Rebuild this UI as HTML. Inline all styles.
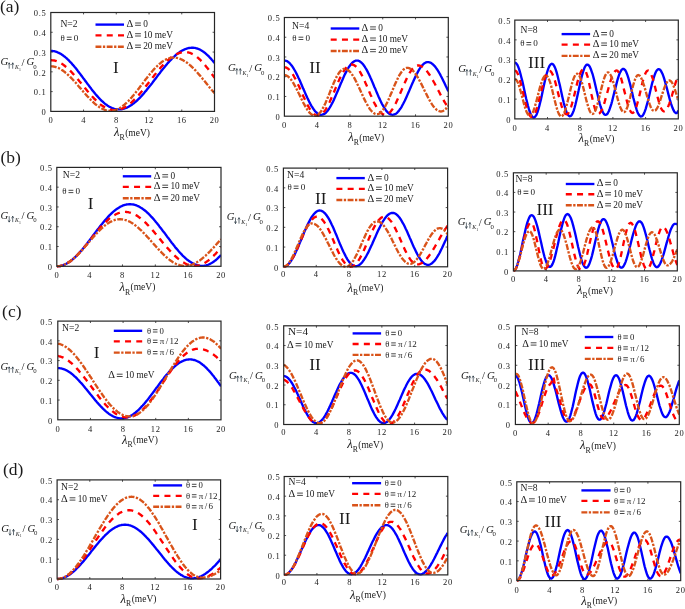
<!DOCTYPE html>
<html><head><meta charset="utf-8"><title>Figure</title>
<style>html,body{margin:0;padding:0;background:#fff;}svg{display:block;will-change:transform;}text{font-family:"Liberation Serif",serif;fill:#1a1a1a;}</style>
</head><body>
<svg width="685" height="609" viewBox="0 0 685 609">
<rect width="685" height="609" fill="#fff"/>
<clipPath id="c0"><rect x="50.8" y="10.5" width="163.7" height="102.9"/></clipPath>
<g clip-path="url(#c0)" fill="none" stroke-width="2.35" stroke-linejoin="round">
<path d="M50.8,50.9L51.6,50.9L52.4,51.0L53.3,51.1L54.1,51.2L54.9,51.4L55.7,51.6L56.5,51.9L57.3,52.2L58.2,52.6L59.0,52.9L59.8,53.4L60.6,53.8L61.4,54.3L62.3,54.9L63.1,55.5L63.9,56.1L64.7,56.7L65.5,57.4L66.4,58.1L67.2,58.9L68.0,59.6L68.8,60.4L69.6,61.3L70.4,62.1L71.3,63.0L72.1,63.9L72.9,64.9L73.7,65.8L74.5,66.8L75.4,67.8L76.2,68.8L77.0,69.8L77.8,70.9L78.6,71.9L79.4,73.0L80.3,74.1L81.1,75.2L81.9,76.3L82.7,77.4L83.5,78.5L84.4,79.6L85.2,80.7L86.0,81.8L86.8,82.9L87.6,84.0L88.5,85.1L89.3,86.2L90.1,87.3L90.9,88.3L91.7,89.4L92.5,90.4L93.4,91.5L94.2,92.5L95.0,93.5L95.8,94.5L96.6,95.4L97.5,96.4L98.3,97.3L99.1,98.2L99.9,99.0L100.7,99.8L101.5,100.7L102.4,101.4L103.2,102.2L104.0,102.9L104.8,103.6L105.6,104.2L106.5,104.8L107.3,105.4L108.1,105.9L108.9,106.5L109.7,106.9L110.6,107.3L111.4,107.7L112.2,108.1L113.0,108.4L113.8,108.7L114.6,108.9L115.5,109.1L116.3,109.2L117.1,109.3L117.9,109.4L118.7,109.4L119.6,109.4L120.4,109.3L121.2,109.3L122.0,109.1L122.8,109.0L123.6,108.7L124.5,108.5L125.3,108.2L126.1,107.9L126.9,107.6L127.7,107.2L128.6,106.8L129.4,106.3L130.2,105.8L131.0,105.3L131.8,104.7L132.6,104.1L133.5,103.5L134.3,102.9L135.1,102.2L135.9,101.5L136.7,100.8L137.6,100.0L138.4,99.2L139.2,98.4L140.0,97.6L140.8,96.7L141.7,95.8L142.5,94.9L143.3,94.0L144.1,93.1L144.9,92.1L145.7,91.1L146.6,90.1L147.4,89.1L148.2,88.1L149.0,87.1L149.8,86.0L150.7,85.0L151.5,83.9L152.3,82.9L153.1,81.8L153.9,80.7L154.7,79.6L155.6,78.6L156.4,77.5L157.2,76.4L158.0,75.3L158.8,74.3L159.7,73.2L160.5,72.1L161.3,71.1L162.1,70.1L162.9,69.0L163.8,68.0L164.6,67.0L165.4,66.0L166.2,65.0L167.0,64.1L167.8,63.1L168.7,62.2L169.5,61.3L170.3,60.4L171.1,59.6L171.9,58.7L172.8,57.9L173.6,57.1L174.4,56.4L175.2,55.6L176.0,54.9L176.8,54.2L177.7,53.6L178.5,53.0L179.3,52.4L180.1,51.8L180.9,51.3L181.8,50.8L182.6,50.4L183.4,50.0L184.2,49.6L185.0,49.2L185.9,48.9L186.7,48.6L187.5,48.4L188.3,48.2L189.1,48.0L189.9,47.9L190.8,47.8L191.6,47.7L192.4,47.7L193.2,47.7L194.0,47.8L194.9,47.9L195.7,48.1L196.5,48.3L197.3,48.5L198.1,48.8L198.9,49.2L199.8,49.5L200.6,50.0L201.4,50.4L202.2,50.9L203.0,51.5L203.9,52.1L204.7,52.7L205.5,53.4L206.3,54.1L207.1,54.8L208.0,55.6L208.8,56.4L209.6,57.3L210.4,58.1L211.2,59.0L212.0,60.0L212.9,60.9L213.7,61.9L214.5,62.9" stroke="#0000ff"/>
<path d="M50.8,60.2L51.6,60.2L52.4,60.3L53.3,60.4L54.1,60.5L54.9,60.7L55.7,60.9L56.5,61.2L57.3,61.5L58.2,61.8L59.0,62.2L59.8,62.6L60.6,63.0L61.4,63.5L62.3,64.0L63.1,64.6L63.9,65.2L64.7,65.8L65.5,66.5L66.4,67.1L67.2,67.9L68.0,68.6L68.8,69.4L69.6,70.2L70.4,71.0L71.3,71.8L72.1,72.7L72.9,73.6L73.7,74.5L74.5,75.4L75.4,76.3L76.2,77.3L77.0,78.2L77.8,79.2L78.6,80.2L79.4,81.2L80.3,82.2L81.1,83.2L81.9,84.2L82.7,85.2L83.5,86.2L84.4,87.2L85.2,88.2L86.0,89.2L86.8,90.2L87.6,91.2L88.5,92.2L89.3,93.1L90.1,94.1L90.9,95.0L91.7,95.9L92.5,96.8L93.4,97.7L94.2,98.6L95.0,99.4L95.8,100.2L96.6,101.0L97.5,101.8L98.3,102.5L99.1,103.2L99.9,103.9L100.7,104.6L101.5,105.2L102.4,105.8L103.2,106.3L104.0,106.9L104.8,107.3L105.6,107.8L106.5,108.2L107.3,108.6L108.1,108.9L108.9,109.2L109.7,109.5L110.6,109.7L111.4,109.9L112.2,110.0L113.0,110.1L113.8,110.2L114.6,110.2L115.5,110.2L116.3,110.1L117.1,110.0L117.9,109.9L118.7,109.7L119.6,109.5L120.4,109.3L121.2,109.0L122.0,108.7L122.8,108.3L123.6,107.9L124.5,107.5L125.3,107.0L126.1,106.5L126.9,106.0L127.7,105.4L128.6,104.8L129.4,104.2L130.2,103.5L131.0,102.8L131.8,102.1L132.6,101.3L133.5,100.5L134.3,99.7L135.1,98.9L135.9,98.1L136.7,97.2L137.6,96.3L138.4,95.4L139.2,94.4L140.0,93.5L140.8,92.5L141.7,91.5L142.5,90.5L143.3,89.5L144.1,88.5L144.9,87.5L145.7,86.4L146.6,85.4L147.4,84.3L148.2,83.3L149.0,82.2L149.8,81.1L150.7,80.1L151.5,79.0L152.3,78.0L153.1,76.9L153.9,75.9L154.7,74.8L155.6,73.8L156.4,72.8L157.2,71.7L158.0,70.7L158.8,69.8L159.7,68.8L160.5,67.8L161.3,66.9L162.1,66.0L162.9,65.1L163.8,64.2L164.6,63.4L165.4,62.5L166.2,61.7L167.0,61.0L167.8,60.2L168.7,59.5L169.5,58.8L170.3,58.1L171.1,57.5L171.9,56.9L172.8,56.3L173.6,55.8L174.4,55.3L175.2,54.8L176.0,54.4L176.8,54.0L177.7,53.6L178.5,53.3L179.3,53.0L180.1,52.8L180.9,52.5L181.8,52.4L182.6,52.2L183.4,52.1L184.2,52.1L185.0,52.1L185.9,52.1L186.7,52.2L187.5,52.3L188.3,52.4L189.1,52.7L189.9,52.9L190.8,53.2L191.6,53.6L192.4,54.0L193.2,54.4L194.0,54.9L194.9,55.4L195.7,56.0L196.5,56.6L197.3,57.3L198.1,57.9L198.9,58.7L199.8,59.4L200.6,60.2L201.4,61.1L202.2,61.9L203.0,62.8L203.9,63.8L204.7,64.7L205.5,65.7L206.3,66.7L207.1,67.7L208.0,68.8L208.8,69.9L209.6,71.0L210.4,72.1L211.2,73.2L212.0,74.3L212.9,75.5L213.7,76.6L214.5,77.8" stroke="#ff0000" stroke-dasharray="6 5.25"/>
<path d="M50.8,66.3L51.6,66.3L52.4,66.4L53.3,66.5L54.1,66.6L54.9,66.8L55.7,67.0L56.5,67.3L57.3,67.6L58.2,67.9L59.0,68.3L59.8,68.7L60.6,69.2L61.4,69.7L62.3,70.2L63.1,70.8L63.9,71.4L64.7,72.0L65.5,72.7L66.4,73.3L67.2,74.0L68.0,74.8L68.8,75.6L69.6,76.3L70.4,77.2L71.3,78.0L72.1,78.8L72.9,79.7L73.7,80.6L74.5,81.5L75.4,82.4L76.2,83.3L77.0,84.3L77.8,85.2L78.6,86.2L79.4,87.1L80.3,88.1L81.1,89.0L81.9,90.0L82.7,90.9L83.5,91.9L84.4,92.8L85.2,93.8L86.0,94.7L86.8,95.6L87.6,96.5L88.5,97.4L89.3,98.3L90.1,99.1L90.9,100.0L91.7,100.8L92.5,101.6L93.4,102.3L94.2,103.1L95.0,103.8L95.8,104.5L96.6,105.1L97.5,105.7L98.3,106.3L99.1,106.9L99.9,107.4L100.7,107.9L101.5,108.4L102.4,108.8L103.2,109.2L104.0,109.5L104.8,109.8L105.6,110.1L106.5,110.3L107.3,110.5L108.1,110.6L108.9,110.7L109.7,110.8L110.6,110.8L111.4,110.8L112.2,110.7L113.0,110.6L113.8,110.5L114.6,110.3L115.5,110.0L116.3,109.7L117.1,109.4L117.9,109.0L118.7,108.6L119.6,108.2L120.4,107.7L121.2,107.2L122.0,106.6L122.8,106.0L123.6,105.3L124.5,104.7L125.3,103.9L126.1,103.2L126.9,102.4L127.7,101.6L128.6,100.8L129.4,99.9L130.2,99.0L131.0,98.1L131.8,97.2L132.6,96.2L133.5,95.3L134.3,94.3L135.1,93.2L135.9,92.2L136.7,91.2L137.6,90.1L138.4,89.1L139.2,88.0L140.0,86.9L140.8,85.8L141.7,84.7L142.5,83.7L143.3,82.6L144.1,81.5L144.9,80.4L145.7,79.3L146.6,78.3L147.4,77.2L148.2,76.2L149.0,75.2L149.8,74.1L150.7,73.2L151.5,72.2L152.3,71.2L153.1,70.3L153.9,69.4L154.7,68.5L155.6,67.6L156.4,66.8L157.2,66.0L158.0,65.2L158.8,64.5L159.7,63.7L160.5,63.1L161.3,62.4L162.1,61.8L162.9,61.3L163.8,60.7L164.6,60.2L165.4,59.8L166.2,59.4L167.0,59.0L167.8,58.7L168.7,58.4L169.5,58.2L170.3,58.0L171.1,57.8L171.9,57.7L172.8,57.6L173.6,57.6L174.4,57.6L175.2,57.7L176.0,57.8L176.8,57.9L177.7,58.1L178.5,58.3L179.3,58.6L180.1,58.9L180.9,59.2L181.8,59.6L182.6,60.0L183.4,60.4L184.2,60.9L185.0,61.4L185.9,61.9L186.7,62.5L187.5,63.1L188.3,63.8L189.1,64.4L189.9,65.1L190.8,65.8L191.6,66.6L192.4,67.4L193.2,68.2L194.0,69.0L194.9,69.9L195.7,70.7L196.5,71.6L197.3,72.5L198.1,73.5L198.9,74.4L199.8,75.4L200.6,76.3L201.4,77.3L202.2,78.3L203.0,79.3L203.9,80.3L204.7,81.3L205.5,82.3L206.3,83.3L207.1,84.3L208.0,85.3L208.8,86.3L209.6,87.4L210.4,88.4L211.2,89.3L212.0,90.3L212.9,91.3L213.7,92.3L214.5,93.2" stroke="#d95319" stroke-dasharray="5.9 1.5 2.3 1.5"/>
</g>
<rect x="50.8" y="12.5" width="163.7" height="98.9" fill="none" stroke="#262626" stroke-width="1.2"/>
<path d="M83.54,111.4v-1.9M83.54,12.5v1.9M116.28,111.4v-1.9M116.28,12.5v1.9M149.02,111.4v-1.9M149.02,12.5v1.9M181.76,111.4v-1.9M181.76,12.5v1.9M50.8,91.62h1.9M214.5,91.62h-1.9M50.8,71.84h1.9M214.5,71.84h-1.9M50.8,52.06h1.9M214.5,52.06h-1.9M50.8,32.28h1.9M214.5,32.28h-1.9" stroke="#262626" stroke-width="0.8" fill="none"/>
<g font-size="8.5" letter-spacing="0.7">
<text x="50.9" y="122.8" text-anchor="middle">0</text>
<text x="83.64" y="122.8" text-anchor="middle">4</text>
<text x="116.38" y="122.8" text-anchor="middle">8</text>
<text x="149.12" y="122.8" text-anchor="middle">12</text>
<text x="181.86" y="122.8" text-anchor="middle">16</text>
<text x="214.6" y="122.8" text-anchor="middle">20</text>
<text x="46.5" y="115.1" text-anchor="end">0</text>
<text x="46.5" y="95.32" text-anchor="end">0.1</text>
<text x="46.5" y="75.54" text-anchor="end">0.2</text>
<text x="46.5" y="55.76" text-anchor="end">0.3</text>
<text x="46.5" y="35.98" text-anchor="end">0.4</text>
<text x="46.5" y="16.2" text-anchor="end">0.5</text>
</g>
<text x="0" y="12" font-size="17.5" fill="#000">(a)</text>
<text x="60.4" y="26.5" font-size="9.6">N=2</text>
<text x="60.6" y="41" font-size="8.925">θ</text><path d="M66.8,37.2h4.83M66.8,39.5h4.83" stroke="#1a1a1a" stroke-width="0.8" fill="none"/><text x="73.73" y="41" font-size="9.135">0</text>
<path d="M95.5,24.6H124" stroke="#0000ff" stroke-width="2.35" fill="none"/>
<text x="126.6" y="27" font-size="10.4">Δ</text><path d="M135.1,23h5.8M135.1,25.3h5.8" stroke="#1a1a1a" stroke-width="0.8" fill="none"/><text x="143.2" y="27" font-size="9.3">0</text>
<path d="M95.5,35.3H124" stroke="#ff0000" stroke-width="2.35" stroke-dasharray="6 5.25" fill="none"/>
<text x="126.6" y="37.7" font-size="10.4">Δ</text><path d="M135.1,33.7h5.8M135.1,36h5.8" stroke="#1a1a1a" stroke-width="0.8" fill="none"/><text x="143.2" y="37.7" font-size="9.3">10 meV</text>
<path d="M95.5,46.7H124" stroke="#d95319" stroke-width="2.35" stroke-dasharray="5.9 1.5 2.3 1.5" fill="none"/>
<text x="126.6" y="49.1" font-size="10.4">Δ</text><path d="M135.1,45.1h5.8M135.1,47.4h5.8" stroke="#1a1a1a" stroke-width="0.8" fill="none"/><text x="143.2" y="49.1" font-size="9.3">20 meV</text>
<text x="115.8" y="72.75" font-size="17.2" text-anchor="middle">I</text>
<text x="0.5" y="65.4" font-size="10.8" font-style="italic">G</text><path d="M9.2,68.7V62.8M7.8,64.7Q9,64 9.2,62.8Q9.4,64 10.6,64.7M12.7,68.7V62.8M11.3,64.7Q12.5,64 12.7,62.8Q12.9,64 14.1,64.7" stroke="#22303c" stroke-width="0.7" fill="none"/><text x="15" y="69" font-size="5.8" font-style="italic">K</text><text x="19" y="70.8" font-size="3.8">1</text><text x="21.6" y="65.8" font-size="10.8">/</text><text x="26.6" y="65.4" font-size="10.8" font-style="italic">G</text><text x="33.3" y="68.9" font-size="6.8">0</text>
<text x="114.1" y="136.3" font-size="12.6" font-style="italic">λ</text><text x="119.6" y="140" font-size="7.8">R</text><text x="125.2" y="135.7" font-size="9.5">(meV)</text>
<clipPath id="c1"><rect x="284.4" y="15.5" width="163.9" height="102.7"/></clipPath>
<g clip-path="url(#c1)" fill="none" stroke-width="2.35" stroke-linejoin="round">
<path d="M284.4,60.5L285.2,60.6L286.0,60.8L286.9,61.1L287.7,61.6L288.5,62.2L289.3,62.9L290.1,63.7L291.0,64.7L291.8,65.7L292.6,66.9L293.4,68.2L294.2,69.5L295.1,71.0L295.9,72.5L296.7,74.1L297.5,75.8L298.3,77.5L299.2,79.3L300.0,81.1L300.8,83.0L301.6,84.8L302.4,86.7L303.2,88.6L304.1,90.5L304.9,92.4L305.7,94.2L306.5,96.1L307.3,97.8L308.2,99.6L309.0,101.2L309.8,102.9L310.6,104.4L311.4,105.8L312.3,107.2L313.1,108.5L313.9,109.6L314.7,110.7L315.5,111.6L316.4,112.5L317.2,113.2L318.0,113.8L318.8,114.2L319.6,114.6L320.5,114.8L321.3,114.8L322.1,114.7L322.9,114.5L323.7,114.2L324.6,113.7L325.4,113.1L326.2,112.3L327.0,111.4L327.8,110.4L328.7,109.3L329.5,108.0L330.3,106.7L331.1,105.2L331.9,103.7L332.8,102.1L333.6,100.4L334.4,98.6L335.2,96.8L336.0,94.9L336.8,93.0L337.7,91.1L338.5,89.1L339.3,87.2L340.1,85.2L340.9,83.3L341.8,81.4L342.6,79.5L343.4,77.6L344.2,75.8L345.0,74.1L345.9,72.4L346.7,70.9L347.5,69.4L348.3,68.0L349.1,66.7L350.0,65.5L350.8,64.4L351.6,63.5L352.4,62.6L353.2,62.0L354.1,61.4L354.9,61.0L355.7,60.7L356.5,60.6L357.3,60.6L358.2,60.7L359.0,61.0L359.8,61.4L360.6,62.0L361.4,62.6L362.3,63.5L363.1,64.4L363.9,65.5L364.7,66.7L365.5,68.0L366.4,69.4L367.2,70.9L368.0,72.4L368.8,74.1L369.6,75.8L370.4,77.6L371.3,79.5L372.1,81.4L372.9,83.3L373.7,85.2L374.5,87.2L375.4,89.1L376.2,91.1L377.0,93.0L377.8,94.9L378.6,96.8L379.5,98.6L380.3,100.4L381.1,102.1L381.9,103.7L382.7,105.2L383.6,106.7L384.4,108.0L385.2,109.3L386.0,110.4L386.8,111.4L387.7,112.3L388.5,113.1L389.3,113.7L390.1,114.2L390.9,114.5L391.8,114.7L392.6,114.8L393.4,114.7L394.2,114.5L395.0,114.2L395.9,113.7L396.7,113.1L397.5,112.3L398.3,111.4L399.1,110.4L399.9,109.3L400.8,108.1L401.6,106.8L402.4,105.3L403.2,103.8L404.0,102.2L404.9,100.5L405.7,98.8L406.5,97.0L407.3,95.1L408.1,93.3L409.0,91.3L409.8,89.4L410.6,87.5L411.4,85.6L412.2,83.7L413.1,81.8L413.9,80.0L414.7,78.2L415.5,76.4L416.3,74.7L417.2,73.1L418.0,71.6L418.8,70.2L419.6,68.8L420.4,67.6L421.3,66.5L422.1,65.5L422.9,64.6L423.7,63.9L424.5,63.2L425.4,62.7L426.2,62.4L427.0,62.2L427.8,62.1L428.6,62.2L429.5,62.4L430.3,62.6L431.1,63.1L431.9,63.6L432.7,64.2L433.5,65.0L434.4,65.8L435.2,66.8L436.0,67.9L436.8,69.0L437.6,70.2L438.5,71.6L439.3,73.0L440.1,74.4L440.9,76.0L441.7,77.5L442.6,79.2L443.4,80.9L444.2,82.6L445.0,84.3L445.8,86.0L446.7,87.8L447.5,89.6L448.3,91.3" stroke="#0000ff"/>
<path d="M284.4,67.2L285.2,67.3L286.0,67.5L286.9,67.9L287.7,68.4L288.5,69.0L289.3,69.8L290.1,70.6L291.0,71.6L291.8,72.8L292.6,74.0L293.4,75.3L294.2,76.8L295.1,78.3L295.9,79.9L296.7,81.5L297.5,83.3L298.3,85.0L299.2,86.8L300.0,88.7L300.8,90.5L301.6,92.4L302.4,94.2L303.2,96.0L304.1,97.8L304.9,99.6L305.7,101.3L306.5,103.0L307.3,104.6L308.2,106.1L309.0,107.5L309.8,108.8L310.6,110.1L311.4,111.2L312.3,112.2L313.1,113.1L313.9,113.9L314.7,114.5L315.5,115.0L316.4,115.3L317.2,115.5L318.0,115.6L318.8,115.5L319.6,115.3L320.5,114.9L321.3,114.4L322.1,113.8L322.9,113.0L323.7,112.0L324.6,111.0L325.4,109.8L326.2,108.5L327.0,107.1L327.8,105.5L328.7,103.9L329.5,102.3L330.3,100.5L331.1,98.7L331.9,96.8L332.8,94.9L333.6,93.0L334.4,91.0L335.2,89.1L336.0,87.1L336.8,85.2L337.7,83.3L338.5,81.4L339.3,79.6L340.1,77.8L340.9,76.1L341.8,74.5L342.6,73.0L343.4,71.6L344.2,70.3L345.0,69.1L345.9,68.1L346.7,67.1L347.5,66.3L348.3,65.7L349.1,65.2L350.0,64.8L350.8,64.6L351.6,64.5L352.4,64.6L353.2,64.8L354.1,65.1L354.9,65.7L355.7,66.3L356.5,67.1L357.3,68.0L358.2,69.1L359.0,70.2L359.8,71.5L360.6,72.9L361.4,74.4L362.3,76.0L363.1,77.6L363.9,79.4L364.7,81.1L365.5,83.0L366.4,84.9L367.2,86.8L368.0,88.7L368.8,90.6L369.6,92.5L370.4,94.4L371.3,96.3L372.1,98.2L372.9,99.9L373.7,101.7L374.5,103.3L375.4,104.9L376.2,106.4L377.0,107.8L377.8,109.1L378.6,110.2L379.5,111.3L380.3,112.2L381.1,113.0L381.9,113.6L382.7,114.2L383.6,114.5L384.4,114.7L385.2,114.8L386.0,114.7L386.8,114.5L387.7,114.1L388.5,113.6L389.3,112.9L390.1,112.1L390.9,111.2L391.8,110.1L392.6,108.9L393.4,107.6L394.2,106.2L395.0,104.6L395.9,103.0L396.7,101.3L397.5,99.6L398.3,97.8L399.1,95.9L399.9,94.0L400.8,92.1L401.6,90.1L402.4,88.2L403.2,86.3L404.0,84.4L404.9,82.5L405.7,80.7L406.5,78.9L407.3,77.3L408.1,75.6L409.0,74.1L409.8,72.7L410.6,71.4L411.4,70.2L412.2,69.1L413.1,68.2L413.9,67.3L414.7,66.7L415.5,66.1L416.3,65.8L417.2,65.5L418.0,65.5L418.8,65.5L419.6,65.7L420.4,65.9L421.3,66.3L422.1,66.7L422.9,67.3L423.7,67.9L424.5,68.6L425.4,69.4L426.2,70.3L427.0,71.3L427.8,72.4L428.6,73.5L429.5,74.7L430.3,76.0L431.1,77.3L431.9,78.7L432.7,80.1L433.5,81.5L434.4,83.0L435.2,84.5L436.0,86.1L436.8,87.6L437.6,89.2L438.5,90.8L439.3,92.3L440.1,93.9L440.9,95.4L441.7,97.0L442.6,98.4L443.4,99.9L444.2,101.3L445.0,102.7L445.8,104.0L446.7,105.2L447.5,106.4L448.3,107.5" stroke="#ff0000" stroke-dasharray="6 5.25"/>
<path d="M284.4,75.1L285.2,75.2L286.0,75.4L286.9,75.8L287.7,76.3L288.5,76.9L289.3,77.7L290.1,78.5L291.0,79.5L291.8,80.7L292.6,81.9L293.4,83.2L294.2,84.6L295.1,86.1L295.9,87.6L296.7,89.2L297.5,90.8L298.3,92.5L299.2,94.2L300.0,95.9L300.8,97.6L301.6,99.3L302.4,100.9L303.2,102.6L304.1,104.1L304.9,105.6L305.7,107.1L306.5,108.4L307.3,109.7L308.2,110.9L309.0,111.9L309.8,112.9L310.6,113.7L311.4,114.4L312.3,114.9L313.1,115.4L313.9,115.6L314.7,115.8L315.5,115.8L316.4,115.6L317.2,115.2L318.0,114.7L318.8,114.0L319.6,113.2L320.5,112.1L321.3,111.0L322.1,109.6L322.9,108.2L323.7,106.6L324.6,104.9L325.4,103.2L326.2,101.3L327.0,99.4L327.8,97.4L328.7,95.4L329.5,93.3L330.3,91.3L331.1,89.2L331.9,87.2L332.8,85.3L333.6,83.3L334.4,81.5L335.2,79.7L336.0,78.0L336.8,76.4L337.7,75.0L338.5,73.7L339.3,72.5L340.1,71.5L340.9,70.6L341.8,69.9L342.6,69.4L343.4,69.0L344.2,68.8L345.0,68.8L345.9,69.0L346.7,69.3L347.5,69.7L348.3,70.3L349.1,71.0L350.0,71.8L350.8,72.7L351.6,73.8L352.4,75.0L353.2,76.3L354.1,77.7L354.9,79.1L355.7,80.7L356.5,82.3L357.3,84.0L358.2,85.7L359.0,87.5L359.8,89.3L360.6,91.1L361.4,92.9L362.3,94.7L363.1,96.5L363.9,98.2L364.7,99.9L365.5,101.5L366.4,103.1L367.2,104.6L368.0,106.1L368.8,107.4L369.6,108.7L370.4,109.8L371.3,110.8L372.1,111.7L372.9,112.5L373.7,113.1L374.5,113.6L375.4,113.9L376.2,114.2L377.0,114.2L377.8,114.1L378.6,113.9L379.5,113.5L380.3,112.9L381.1,112.2L381.9,111.3L382.7,110.2L383.6,109.1L384.4,107.8L385.2,106.4L386.0,104.8L386.8,103.2L387.7,101.5L388.5,99.7L389.3,97.8L390.1,95.9L390.9,94.0L391.8,92.0L392.6,90.0L393.4,88.1L394.2,86.1L395.0,84.2L395.9,82.4L396.7,80.6L397.5,78.9L398.3,77.2L399.1,75.7L399.9,74.3L400.8,73.0L401.6,71.8L402.4,70.8L403.2,69.9L404.0,69.2L404.9,68.6L405.7,68.2L406.5,67.9L407.3,67.8L408.1,67.9L409.0,68.1L409.8,68.4L410.6,68.9L411.4,69.4L412.2,70.1L413.1,70.9L413.9,71.8L414.7,72.8L415.5,73.9L416.3,75.1L417.2,76.4L418.0,77.8L418.8,79.2L419.6,80.7L420.4,82.3L421.3,83.9L422.1,85.5L422.9,87.1L423.7,88.8L424.5,90.5L425.4,92.2L426.2,93.8L427.0,95.4L427.8,97.0L428.6,98.6L429.5,100.1L430.3,101.5L431.1,102.9L431.9,104.2L432.7,105.4L433.5,106.5L434.4,107.5L435.2,108.4L436.0,109.2L436.8,109.9L437.6,110.4L438.5,110.9L439.3,111.2L440.1,111.4L440.9,111.5L441.7,111.4L442.6,111.2L443.4,110.8L444.2,110.3L445.0,109.6L445.8,108.9L446.7,107.9L447.5,106.9L448.3,105.7" stroke="#d95319" stroke-dasharray="5.9 1.5 2.3 1.5"/>
</g>
<rect x="284.4" y="17.5" width="163.9" height="98.7" fill="none" stroke="#262626" stroke-width="1.2"/>
<path d="M317.18,116.2v-1.9M317.18,17.5v1.9M349.96,116.2v-1.9M349.96,17.5v1.9M382.74,116.2v-1.9M382.74,17.5v1.9M415.52,116.2v-1.9M415.52,17.5v1.9M284.4,96.46h1.9M448.3,96.46h-1.9M284.4,76.72h1.9M448.3,76.72h-1.9M284.4,56.98h1.9M448.3,56.98h-1.9M284.4,37.24h1.9M448.3,37.24h-1.9" stroke="#262626" stroke-width="0.8" fill="none"/>
<g font-size="8.5" letter-spacing="0.7">
<text x="284.5" y="127.8" text-anchor="middle">0</text>
<text x="317.28" y="127.8" text-anchor="middle">4</text>
<text x="350.06" y="127.8" text-anchor="middle">8</text>
<text x="382.84" y="127.8" text-anchor="middle">12</text>
<text x="415.62" y="127.8" text-anchor="middle">16</text>
<text x="448.4" y="127.8" text-anchor="middle">20</text>
<text x="280.5" y="119.9" text-anchor="end">0</text>
<text x="280.5" y="100.16" text-anchor="end">0.1</text>
<text x="280.5" y="80.42" text-anchor="end">0.2</text>
<text x="280.5" y="60.68" text-anchor="end">0.3</text>
<text x="280.5" y="40.94" text-anchor="end">0.4</text>
<text x="280.5" y="21.2" text-anchor="end">0.5</text>
</g>
<text x="292.1" y="29.2" font-size="9.6">N=4</text>
<text x="292.3" y="41" font-size="8.925">θ</text><path d="M298.5,37.2h4.83M298.5,39.5h4.83" stroke="#1a1a1a" stroke-width="0.8" fill="none"/><text x="305.44" y="41" font-size="9.135">0</text>
<path d="M330.7,28.5H359.3" stroke="#0000ff" stroke-width="2.35" fill="none"/>
<text x="361.6" y="30.9" font-size="10.4">Δ</text><path d="M370.1,26.9h5.8M370.1,29.2h5.8" stroke="#1a1a1a" stroke-width="0.8" fill="none"/><text x="378.2" y="30.9" font-size="9.3">0</text>
<path d="M330.7,39.6H359.3" stroke="#ff0000" stroke-width="2.35" stroke-dasharray="6 5.25" fill="none"/>
<text x="361.6" y="42" font-size="10.4">Δ</text><path d="M370.1,38h5.8M370.1,40.3h5.8" stroke="#1a1a1a" stroke-width="0.8" fill="none"/><text x="378.2" y="42" font-size="9.3">10 meV</text>
<path d="M330.7,51.0H359.3" stroke="#d95319" stroke-width="2.35" stroke-dasharray="5.9 1.5 2.3 1.5" fill="none"/>
<text x="361.6" y="53.4" font-size="10.4">Δ</text><path d="M370.1,49.4h5.8M370.1,51.7h5.8" stroke="#1a1a1a" stroke-width="0.8" fill="none"/><text x="378.2" y="53.4" font-size="9.3">20 meV</text>
<text x="315" y="73.25" font-size="17.2" text-anchor="middle">II</text>
<text x="228.1" y="71.2" font-size="10.8" font-style="italic">G</text><path d="M236.8,74.5V68.6M235.4,70.5Q236.6,69.8 236.8,68.6Q237,69.8 238.2,70.5M240.3,74.5V68.6M238.9,70.5Q240.1,69.8 240.3,68.6Q240.5,69.8 241.7,70.5" stroke="#22303c" stroke-width="0.7" fill="none"/><text x="242.6" y="74.8" font-size="5.8" font-style="italic">K</text><text x="246.6" y="76.6" font-size="3.8">1</text><text x="249.2" y="71.6" font-size="10.8">/</text><text x="254.2" y="71.2" font-size="10.8" font-style="italic">G</text><text x="260.9" y="74.7" font-size="6.8">0</text>
<text x="348.2" y="141.3" font-size="12.6" font-style="italic">λ</text><text x="353.7" y="145" font-size="7.8">R</text><text x="359.3" y="140.7" font-size="9.5">(meV)</text>
<clipPath id="c2"><rect x="514.8" y="18.1" width="163.5" height="102.8"/></clipPath>
<g clip-path="url(#c2)" fill="none" stroke-width="2.35" stroke-linejoin="round">
<path d="M514.8,62.6L515.6,62.8L516.4,63.6L517.3,64.8L518.1,66.5L518.9,68.6L519.7,71.2L520.5,74.0L521.3,77.2L522.2,80.6L523.0,84.1L523.8,87.8L524.6,91.5L525.4,95.2L526.2,98.8L527.1,102.3L527.9,105.5L528.7,108.4L529.5,111.0L530.3,113.2L531.1,115.0L532.0,116.3L532.8,117.2L533.6,117.5L534.4,117.3L535.2,116.6L536.1,115.4L536.9,113.7L537.7,111.5L538.5,108.9L539.3,105.9L540.1,102.6L541.0,99.1L541.8,95.4L542.6,91.6L543.4,87.8L544.2,84.0L545.0,80.4L545.9,77.0L546.7,73.8L547.5,71.0L548.3,68.6L549.1,66.7L550.0,65.2L550.8,64.2L551.6,63.8L552.4,63.9L553.2,64.5L554.0,65.7L554.9,67.3L555.7,69.4L556.5,71.9L557.3,74.8L558.1,78.0L558.9,81.4L559.8,85.0L560.6,88.7L561.4,92.5L562.2,96.2L563.0,99.7L563.8,103.1L564.7,106.2L565.5,109.0L566.3,111.4L567.1,113.3L567.9,114.8L568.8,115.8L569.6,116.3L570.4,116.2L571.2,115.6L572.0,114.5L572.8,112.8L573.7,110.6L574.5,108.0L575.3,105.0L576.1,101.7L576.9,98.2L577.7,94.4L578.6,90.6L579.4,86.8L580.2,83.1L581.0,79.5L581.8,76.2L582.7,73.2L583.5,70.5L584.3,68.3L585.1,66.6L585.9,65.4L586.7,64.7L587.6,64.6L588.4,65.0L589.2,65.9L590.0,67.2L590.8,69.0L591.6,71.3L592.5,73.8L593.3,76.7L594.1,79.9L594.9,83.3L595.7,86.7L596.5,90.3L597.4,93.8L598.2,97.3L599.0,100.6L599.8,103.7L600.6,106.5L601.5,109.0L602.3,111.1L603.1,112.7L603.9,114.0L604.7,114.7L605.5,114.9L606.4,114.7L607.2,114.0L608.0,112.8L608.8,111.2L609.6,109.2L610.4,106.8L611.3,104.1L612.1,101.2L612.9,98.0L613.7,94.8L614.5,91.4L615.4,88.1L616.2,84.9L617.0,81.8L617.8,78.9L618.6,76.3L619.4,74.0L620.3,72.1L621.1,70.6L621.9,69.6L622.7,69.0L623.5,68.9L624.3,69.3L625.2,70.2L626.0,71.6L626.8,73.4L627.6,75.6L628.4,78.1L629.2,81.0L630.1,84.1L630.9,87.4L631.7,90.8L632.5,94.3L633.3,97.7L634.2,101.0L635.0,104.1L635.8,107.0L636.6,109.6L637.4,111.9L638.2,113.7L639.1,115.1L639.9,116.0L640.7,116.5L641.5,116.4L642.3,115.9L643.1,114.9L644.0,113.4L644.8,111.4L645.6,109.1L646.4,106.4L647.2,103.5L648.1,100.3L648.9,96.9L649.7,93.5L650.5,90.1L651.3,86.7L652.1,83.4L653.0,80.4L653.8,77.6L654.6,75.1L655.4,73.0L656.2,71.3L657.0,70.1L657.9,69.4L658.7,69.1L659.5,69.3L660.3,70.0L661.1,71.1L661.9,72.7L662.8,74.6L663.6,76.8L664.4,79.4L665.2,82.2L666.0,85.2L666.9,88.3L667.7,91.5L668.5,94.6L669.3,97.7L670.1,100.7L670.9,103.4L671.8,105.9L672.6,108.1L673.4,109.9L674.2,111.4L675.0,112.4L675.8,113.0L676.7,113.1L677.5,112.4L678.3,110.6" stroke="#0000ff"/>
<path d="M514.8,70.5L515.6,70.8L516.4,71.5L517.3,72.9L518.1,74.6L518.9,76.9L519.7,79.5L520.5,82.4L521.3,85.6L522.2,89.0L523.0,92.5L523.8,96.0L524.6,99.5L525.4,102.8L526.2,105.9L527.1,108.8L527.9,111.3L528.7,113.4L529.5,115.0L530.3,116.2L531.1,116.8L532.0,116.9L532.8,116.5L533.6,115.7L534.4,114.3L535.2,112.6L536.1,110.5L536.9,108.0L537.7,105.2L538.5,102.2L539.3,99.0L540.1,95.7L541.0,92.4L541.8,89.1L542.6,85.9L543.4,82.9L544.2,80.1L545.0,77.6L545.9,75.4L546.7,73.6L547.5,72.3L548.3,71.4L549.1,70.9L550.0,71.0L550.8,71.5L551.6,72.5L552.4,74.0L553.2,75.9L554.0,78.1L554.9,80.7L555.7,83.6L556.5,86.7L557.3,89.8L558.1,93.1L558.9,96.4L559.8,99.5L560.6,102.5L561.4,105.3L562.2,107.8L563.0,110.0L563.8,111.7L564.7,113.1L565.5,113.9L566.3,114.3L567.1,114.2L567.9,113.6L568.8,112.5L569.6,110.9L570.4,108.9L571.2,106.5L572.0,103.8L572.8,100.8L573.7,97.6L574.5,94.3L575.3,90.9L576.1,87.5L576.9,84.2L577.7,81.1L578.6,78.2L579.4,75.7L580.2,73.5L581.0,71.7L581.8,70.3L582.7,69.5L583.5,69.1L584.3,69.3L585.1,70.2L585.9,71.8L586.7,74.0L587.6,76.7L588.4,79.9L589.2,83.4L590.0,87.2L590.8,91.1L591.6,95.1L592.5,98.9L593.3,102.5L594.1,105.8L594.9,108.6L595.7,110.9L596.5,112.6L597.4,113.6L598.2,114.0L599.0,113.7L599.8,113.1L600.6,112.1L601.5,110.7L602.3,108.9L603.1,106.8L603.9,104.4L604.7,101.8L605.5,98.9L606.4,96.0L607.2,93.0L608.0,90.0L608.8,87.0L609.6,84.1L610.4,81.4L611.3,78.8L612.1,76.6L612.9,74.6L613.7,73.0L614.5,71.8L615.4,71.0L616.2,70.5L617.0,70.6L617.8,71.1L618.6,72.2L619.4,73.8L620.3,75.8L621.1,78.3L621.9,81.1L622.7,84.2L623.5,87.5L624.3,90.9L625.2,94.3L626.0,97.6L626.8,100.8L627.6,103.8L628.4,106.4L629.2,108.7L630.1,110.5L630.9,111.9L631.7,112.7L632.5,113.0L633.3,112.7L634.2,111.8L635.0,110.4L635.8,108.5L636.6,106.1L637.4,103.3L638.2,100.3L639.1,96.9L639.9,93.5L640.7,90.0L641.5,86.5L642.3,83.2L643.1,80.1L644.0,77.3L644.8,75.0L645.6,73.0L646.4,71.6L647.2,70.8L648.1,70.5L648.9,70.8L649.7,71.5L650.5,72.8L651.3,74.6L652.1,76.8L653.0,79.3L653.8,82.2L654.6,85.2L655.4,88.5L656.2,91.8L657.0,95.0L657.9,98.2L658.7,101.2L659.5,103.9L660.3,106.2L661.1,108.2L661.9,109.8L662.8,110.8L663.6,111.3L664.4,111.3L665.2,110.9L666.0,110.2L666.9,109.0L667.7,107.5L668.5,105.7L669.3,103.6L670.1,101.3L670.9,98.7L671.8,96.0L672.6,93.2L673.4,90.4L674.2,87.6L675.0,84.8L675.8,82.2L676.7,79.7L677.5,77.4L678.3,75.4" stroke="#ff0000" stroke-dasharray="6 5.25"/>
<path d="M514.8,79.0L515.6,79.3L516.4,80.1L517.3,81.4L518.1,83.1L518.9,85.3L519.7,87.9L520.5,90.7L521.3,93.8L522.2,96.9L523.0,100.0L523.8,103.1L524.6,106.0L525.4,108.6L526.2,111.0L527.1,112.9L527.9,114.3L528.7,115.3L529.5,115.7L530.3,115.6L531.1,115.0L532.0,113.9L532.8,112.4L533.6,110.4L534.4,108.0L535.2,105.4L536.1,102.5L536.9,99.4L537.7,96.2L538.5,93.0L539.3,89.9L540.1,86.9L541.0,84.2L541.8,81.7L542.6,79.5L543.4,77.8L544.2,76.5L545.0,75.7L545.9,75.4L546.7,75.7L547.5,76.5L548.3,77.8L549.1,79.6L550.0,81.9L550.8,84.6L551.6,87.6L552.4,90.8L553.2,94.2L554.0,97.6L554.9,101.0L555.7,104.2L556.5,107.2L557.3,109.8L558.1,112.1L558.9,114.0L559.8,115.3L560.6,116.1L561.4,116.3L562.2,116.0L563.0,115.1L563.8,113.7L564.7,111.8L565.5,109.4L566.3,106.6L567.1,103.6L567.9,100.3L568.8,96.9L569.6,93.4L570.4,90.0L571.2,86.7L572.0,83.6L572.8,80.8L573.7,78.4L574.5,76.5L575.3,75.0L576.1,74.1L576.9,73.7L577.7,73.8L578.6,74.6L579.4,75.8L580.2,77.6L581.0,79.8L581.8,82.4L582.7,85.3L583.5,88.5L584.3,91.8L585.1,95.2L585.9,98.5L586.7,101.7L587.6,104.6L588.4,107.3L589.2,109.6L590.0,111.5L590.8,112.8L591.6,113.7L592.5,114.0L593.3,113.7L594.1,112.8L594.9,111.5L595.7,109.6L596.5,107.3L597.4,104.6L598.2,101.5L599.0,98.3L599.8,94.9L600.6,91.5L601.5,88.1L602.3,84.9L603.1,81.9L603.9,79.2L604.7,76.8L605.5,75.0L606.4,73.6L607.2,72.7L608.0,72.5L608.8,72.7L609.6,73.5L610.4,74.7L611.3,76.4L612.1,78.6L612.9,81.0L613.7,83.8L614.5,86.8L615.4,89.9L616.2,93.1L617.0,96.3L617.8,99.4L618.6,102.3L619.4,104.9L620.3,107.2L621.1,109.1L621.9,110.6L622.7,111.6L623.5,112.1L624.3,112.1L625.2,111.5L626.0,110.3L626.8,108.6L627.6,106.4L628.4,103.8L629.2,100.9L630.1,97.7L630.9,94.4L631.7,91.1L632.5,87.9L633.3,84.8L634.2,82.0L635.0,79.6L635.8,77.7L636.6,76.2L637.4,75.3L638.2,75.0L639.1,75.3L639.9,76.0L640.7,77.1L641.5,78.6L642.3,80.6L643.1,82.8L644.0,85.3L644.8,88.0L645.6,90.8L646.4,93.7L647.2,96.6L648.1,99.4L648.9,102.0L649.7,104.4L650.5,106.5L651.3,108.2L652.1,109.6L653.0,110.5L653.8,110.9L654.6,110.9L655.4,110.5L656.2,109.6L657.0,108.4L657.9,106.7L658.7,104.8L659.5,102.6L660.3,100.2L661.1,97.6L661.9,95.0L662.8,92.5L663.6,90.0L664.4,87.7L665.2,85.6L666.0,83.8L666.9,82.3L667.7,81.2L668.5,80.6L669.3,80.4L670.1,80.6L670.9,81.2L671.8,82.3L672.6,83.8L673.4,85.6L674.2,87.6L675.0,89.9L675.8,92.4L676.7,95.0L677.5,97.6L678.3,100.1" stroke="#d95319" stroke-dasharray="5.9 1.5 2.3 1.5"/>
</g>
<rect x="514.8" y="20.1" width="163.5" height="98.8" fill="none" stroke="#262626" stroke-width="1.2"/>
<path d="M547.5,118.9v-1.9M547.5,20.1v1.9M580.2,118.9v-1.9M580.2,20.1v1.9M612.9,118.9v-1.9M612.9,20.1v1.9M645.6,118.9v-1.9M645.6,20.1v1.9M514.8,99.14h1.9M678.3,99.14h-1.9M514.8,79.38h1.9M678.3,79.38h-1.9M514.8,59.62h1.9M678.3,59.62h-1.9M514.8,39.86h1.9M678.3,39.86h-1.9" stroke="#262626" stroke-width="0.8" fill="none"/>
<g font-size="8.5" letter-spacing="0.7">
<text x="514.9" y="130.5" text-anchor="middle">0</text>
<text x="547.6" y="130.5" text-anchor="middle">4</text>
<text x="580.3" y="130.5" text-anchor="middle">8</text>
<text x="613" y="130.5" text-anchor="middle">12</text>
<text x="645.7" y="130.5" text-anchor="middle">16</text>
<text x="678.4" y="130.5" text-anchor="middle">20</text>
<text x="511.1" y="122.6" text-anchor="end">0</text>
<text x="511.1" y="102.84" text-anchor="end">0.1</text>
<text x="511.1" y="83.08" text-anchor="end">0.2</text>
<text x="511.1" y="63.32" text-anchor="end">0.3</text>
<text x="511.1" y="43.56" text-anchor="end">0.4</text>
<text x="511.1" y="23.8" text-anchor="end">0.5</text>
</g>
<text x="520.5" y="32.5" font-size="9.6">N=8</text>
<text x="520.2" y="46.3" font-size="8.925">θ</text><path d="M526.4,42.5h4.83M526.4,44.8h4.83" stroke="#1a1a1a" stroke-width="0.8" fill="none"/><text x="533.34" y="46.3" font-size="9.135">0</text>
<path d="M561.6,34.1H590.1" stroke="#0000ff" stroke-width="2.35" fill="none"/>
<text x="592.7" y="36.5" font-size="10.4">Δ</text><path d="M601.2,32.5h5.8M601.2,34.8h5.8" stroke="#1a1a1a" stroke-width="0.8" fill="none"/><text x="609.3" y="36.5" font-size="9.3">0</text>
<path d="M561.6,44.6H590.1" stroke="#ff0000" stroke-width="2.35" stroke-dasharray="6 5.25" fill="none"/>
<text x="592.7" y="47" font-size="10.4">Δ</text><path d="M601.2,43h5.8M601.2,45.3h5.8" stroke="#1a1a1a" stroke-width="0.8" fill="none"/><text x="609.3" y="47" font-size="9.3">10 meV</text>
<path d="M561.6,55.9H590.1" stroke="#d95319" stroke-width="2.35" stroke-dasharray="5.9 1.5 2.3 1.5" fill="none"/>
<text x="592.7" y="58.3" font-size="10.4">Δ</text><path d="M601.2,54.3h5.8M601.2,56.6h5.8" stroke="#1a1a1a" stroke-width="0.8" fill="none"/><text x="609.3" y="58.3" font-size="9.3">20 meV</text>
<text x="536.6" y="67.75" font-size="17.2" text-anchor="middle">III</text>
<text x="458.2" y="72.2" font-size="10.8" font-style="italic">G</text><path d="M466.9,75.5V69.6M465.5,71.5Q466.7,70.8 466.9,69.6Q467.1,70.8 468.3,71.5M470.4,75.5V69.6M469,71.5Q470.2,70.8 470.4,69.6Q470.6,70.8 471.8,71.5" stroke="#22303c" stroke-width="0.7" fill="none"/><text x="472.7" y="75.8" font-size="5.8" font-style="italic">K</text><text x="476.7" y="77.6" font-size="3.8">1</text><text x="479.3" y="72.6" font-size="10.8">/</text><text x="484.3" y="72.2" font-size="10.8" font-style="italic">G</text><text x="491" y="75.7" font-size="6.8">0</text>
<text x="578.6" y="142.2" font-size="12.6" font-style="italic">λ</text><text x="584.1" y="145.9" font-size="7.8">R</text><text x="589.7" y="141.6" font-size="9.5">(meV)</text>
<clipPath id="c3"><rect x="56.8" y="165.4" width="164.2" height="102.9"/></clipPath>
<g clip-path="url(#c3)" fill="none" stroke-width="2.35" stroke-linejoin="round">
<path d="M56.8,266.3L57.6,266.3L58.4,266.2L59.3,266.1L60.1,266.0L60.9,265.8L61.7,265.6L62.5,265.4L63.4,265.1L64.2,264.7L65.0,264.4L65.8,264.0L66.7,263.6L67.5,263.1L68.3,262.6L69.1,262.0L69.9,261.5L70.8,260.9L71.6,260.2L72.4,259.6L73.2,258.9L74.0,258.2L74.9,257.4L75.7,256.6L76.5,255.8L77.3,255.0L78.1,254.1L79.0,253.2L79.8,252.3L80.6,251.4L81.4,250.5L82.3,249.5L83.1,248.5L83.9,247.5L84.7,246.5L85.5,245.5L86.4,244.4L87.2,243.4L88.0,242.3L88.8,241.2L89.6,240.2L90.5,239.1L91.3,238.0L92.1,236.9L92.9,235.8L93.7,234.7L94.6,233.6L95.4,232.5L96.2,231.4L97.0,230.3L97.8,229.3L98.7,228.2L99.5,227.1L100.3,226.1L101.1,225.0L102.0,224.0L102.8,223.0L103.6,222.0L104.4,221.0L105.2,220.0L106.1,219.1L106.9,218.2L107.7,217.3L108.5,216.4L109.3,215.5L110.2,214.7L111.0,213.9L111.8,213.1L112.6,212.3L113.4,211.6L114.3,210.9L115.1,210.3L115.9,209.6L116.7,209.0L117.6,208.4L118.4,207.9L119.2,207.4L120.0,206.9L120.8,206.5L121.7,206.1L122.5,205.7L123.3,205.4L124.1,205.1L124.9,204.9L125.8,204.7L126.6,204.5L127.4,204.4L128.2,204.3L129.0,204.2L129.9,204.2L130.7,204.2L131.5,204.3L132.3,204.4L133.2,204.5L134.0,204.7L134.8,204.9L135.6,205.1L136.4,205.4L137.3,205.8L138.1,206.1L138.9,206.5L139.7,207.0L140.5,207.5L141.4,208.0L142.2,208.5L143.0,209.1L143.8,209.7L144.6,210.3L145.5,211.0L146.3,211.7L147.1,212.5L147.9,213.2L148.8,214.0L149.6,214.8L150.4,215.7L151.2,216.6L152.0,217.4L152.9,218.4L153.7,219.3L154.5,220.3L155.3,221.2L156.1,222.2L157.0,223.2L157.8,224.3L158.6,225.3L159.4,226.4L160.2,227.4L161.1,228.5L161.9,229.6L162.7,230.7L163.5,231.7L164.4,232.8L165.2,233.9L166.0,235.0L166.8,236.1L167.6,237.2L168.5,238.3L169.3,239.4L170.1,240.5L170.9,241.6L171.7,242.7L172.6,243.7L173.4,244.8L174.2,245.8L175.0,246.9L175.8,247.9L176.7,248.9L177.5,249.8L178.3,250.8L179.1,251.7L179.9,252.6L180.8,253.5L181.6,254.4L182.4,255.3L183.2,256.1L184.1,256.9L184.9,257.6L185.7,258.4L186.5,259.1L187.3,259.7L188.2,260.4L189.0,261.0L189.8,261.6L190.6,262.1L191.4,262.6L192.3,263.1L193.1,263.6L193.9,264.0L194.7,264.3L195.5,264.7L196.4,264.9L197.2,265.2L198.0,265.4L198.8,265.6L199.7,265.7L200.5,265.8L201.3,265.9L202.1,265.9L202.9,265.9L203.8,265.8L204.6,265.7L205.4,265.6L206.2,265.4L207.0,265.1L207.9,264.8L208.7,264.5L209.5,264.1L210.3,263.7L211.1,263.3L212.0,262.8L212.8,262.3L213.6,261.7L214.4,261.1L215.3,260.5L216.1,259.8L216.9,259.1L217.7,258.3L218.5,257.5L219.4,256.7L220.2,255.9L221.0,255.0" stroke="#0000ff"/>
<path d="M56.8,266.3L57.6,266.3L58.4,266.2L59.3,266.1L60.1,266.0L60.9,265.8L61.7,265.6L62.5,265.4L63.4,265.1L64.2,264.7L65.0,264.4L65.8,264.0L66.7,263.5L67.5,263.1L68.3,262.6L69.1,262.0L69.9,261.5L70.8,260.9L71.6,260.2L72.4,259.6L73.2,258.9L74.0,258.2L74.9,257.4L75.7,256.6L76.5,255.8L77.3,255.0L78.1,254.2L79.0,253.3L79.8,252.4L80.6,251.5L81.4,250.6L82.3,249.6L83.1,248.7L83.9,247.7L84.7,246.7L85.5,245.7L86.4,244.7L87.2,243.7L88.0,242.7L88.8,241.7L89.6,240.6L90.5,239.6L91.3,238.6L92.1,237.6L92.9,236.5L93.7,235.5L94.6,234.5L95.4,233.5L96.2,232.5L97.0,231.5L97.8,230.5L98.7,229.5L99.5,228.6L100.3,227.6L101.1,226.7L102.0,225.8L102.8,224.9L103.6,224.0L104.4,223.2L105.2,222.4L106.1,221.6L106.9,220.8L107.7,220.1L108.5,219.3L109.3,218.6L110.2,218.0L111.0,217.3L111.8,216.7L112.6,216.2L113.4,215.6L114.3,215.1L115.1,214.7L115.9,214.2L116.7,213.8L117.6,213.5L118.4,213.1L119.2,212.9L120.0,212.6L120.8,212.4L121.7,212.2L122.5,212.1L123.3,212.0L124.1,211.9L124.9,211.9L125.8,211.9L126.6,212.0L127.4,212.1L128.2,212.2L129.0,212.4L129.9,212.6L130.7,212.8L131.5,213.1L132.3,213.4L133.2,213.7L134.0,214.1L134.8,214.5L135.6,215.0L136.4,215.4L137.3,215.9L138.1,216.5L138.9,217.1L139.7,217.7L140.5,218.3L141.4,219.0L142.2,219.6L143.0,220.3L143.8,221.1L144.6,221.8L145.5,222.6L146.3,223.4L147.1,224.3L147.9,225.1L148.8,226.0L149.6,226.9L150.4,227.8L151.2,228.7L152.0,229.6L152.9,230.6L153.7,231.5L154.5,232.5L155.3,233.5L156.1,234.4L157.0,235.4L157.8,236.4L158.6,237.4L159.4,238.4L160.2,239.4L161.1,240.4L161.9,241.4L162.7,242.4L163.5,243.4L164.4,244.4L165.2,245.3L166.0,246.3L166.8,247.2L167.6,248.2L168.5,249.1L169.3,250.0L170.1,250.9L170.9,251.8L171.7,252.7L172.6,253.5L173.4,254.4L174.2,255.2L175.0,256.0L175.8,256.7L176.7,257.5L177.5,258.2L178.3,258.9L179.1,259.5L179.9,260.1L180.8,260.7L181.6,261.3L182.4,261.9L183.2,262.4L184.1,262.8L184.9,263.3L185.7,263.7L186.5,264.1L187.3,264.4L188.2,264.7L189.0,265.0L189.8,265.2L190.6,265.4L191.4,265.6L192.3,265.7L193.1,265.8L193.9,265.9L194.7,265.9L195.5,265.9L196.4,265.8L197.2,265.7L198.0,265.6L198.8,265.4L199.7,265.2L200.5,264.9L201.3,264.6L202.1,264.3L202.9,263.9L203.8,263.5L204.6,263.0L205.4,262.5L206.2,262.0L207.0,261.4L207.9,260.8L208.7,260.2L209.5,259.5L210.3,258.8L211.1,258.1L212.0,257.4L212.8,256.6L213.6,255.8L214.4,254.9L215.3,254.1L216.1,253.2L216.9,252.3L217.7,251.4L218.5,250.4L219.4,249.5L220.2,248.5L221.0,247.5" stroke="#ff0000" stroke-dasharray="6 5.25"/>
<path d="M56.8,266.3L57.6,266.3L58.4,266.2L59.3,266.1L60.1,266.0L60.9,265.8L61.7,265.6L62.5,265.3L63.4,265.1L64.2,264.7L65.0,264.4L65.8,264.0L66.7,263.5L67.5,263.1L68.3,262.6L69.1,262.0L69.9,261.5L70.8,260.9L71.6,260.2L72.4,259.6L73.2,258.9L74.0,258.2L74.9,257.4L75.7,256.7L76.5,255.9L77.3,255.1L78.1,254.3L79.0,253.4L79.8,252.5L80.6,251.7L81.4,250.8L82.3,249.9L83.1,248.9L83.9,248.0L84.7,247.1L85.5,246.1L86.4,245.2L87.2,244.2L88.0,243.2L88.8,242.3L89.6,241.3L90.5,240.4L91.3,239.4L92.1,238.5L92.9,237.5L93.7,236.6L94.6,235.7L95.4,234.8L96.2,233.9L97.0,233.0L97.8,232.1L98.7,231.3L99.5,230.4L100.3,229.6L101.1,228.8L102.0,228.1L102.8,227.3L103.6,226.6L104.4,225.9L105.2,225.3L106.1,224.7L106.9,224.1L107.7,223.5L108.5,223.0L109.3,222.5L110.2,222.0L111.0,221.6L111.8,221.2L112.6,220.8L113.4,220.5L114.3,220.2L115.1,219.9L115.9,219.7L116.7,219.5L117.6,219.4L118.4,219.3L119.2,219.2L120.0,219.2L120.8,219.2L121.7,219.3L122.5,219.4L123.3,219.5L124.1,219.7L124.9,219.9L125.8,220.1L126.6,220.4L127.4,220.7L128.2,221.0L129.0,221.4L129.9,221.8L130.7,222.3L131.5,222.7L132.3,223.3L133.2,223.8L134.0,224.4L134.8,225.0L135.6,225.6L136.4,226.2L137.3,226.9L138.1,227.6L138.9,228.3L139.7,229.1L140.5,229.8L141.4,230.6L142.2,231.4L143.0,232.3L143.8,233.1L144.6,234.0L145.5,234.8L146.3,235.7L147.1,236.6L147.9,237.5L148.8,238.4L149.6,239.3L150.4,240.2L151.2,241.2L152.0,242.1L152.9,243.0L153.7,244.0L154.5,244.9L155.3,245.8L156.1,246.7L157.0,247.6L157.8,248.5L158.6,249.4L159.4,250.3L160.2,251.2L161.1,252.0L161.9,252.9L162.7,253.7L163.5,254.5L164.4,255.3L165.2,256.1L166.0,256.8L166.8,257.5L167.6,258.2L168.5,258.9L169.3,259.6L170.1,260.2L170.9,260.8L171.7,261.3L172.6,261.9L173.4,262.4L174.2,262.9L175.0,263.3L175.8,263.7L176.7,264.1L177.5,264.4L178.3,264.7L179.1,265.0L179.9,265.2L180.8,265.4L181.6,265.6L182.4,265.7L183.2,265.8L184.1,265.9L184.9,265.9L185.7,265.9L186.5,265.8L187.3,265.7L188.2,265.6L189.0,265.5L189.8,265.3L190.6,265.1L191.4,264.8L192.3,264.5L193.1,264.2L193.9,263.8L194.7,263.4L195.5,263.0L196.4,262.6L197.2,262.1L198.0,261.6L198.8,261.0L199.7,260.5L200.5,259.9L201.3,259.3L202.1,258.6L202.9,257.9L203.8,257.2L204.6,256.5L205.4,255.8L206.2,255.0L207.0,254.2L207.9,253.5L208.7,252.6L209.5,251.8L210.3,251.0L211.1,250.1L212.0,249.2L212.8,248.4L213.6,247.5L214.4,246.6L215.3,245.7L216.1,244.7L216.9,243.8L217.7,242.9L218.5,242.0L219.4,241.0L220.2,240.1L221.0,239.2" stroke="#d95319" stroke-dasharray="5.9 1.5 2.3 1.5"/>
</g>
<rect x="56.8" y="167.4" width="164.2" height="98.9" fill="none" stroke="#262626" stroke-width="1.2"/>
<path d="M89.64,266.3v-1.9M89.64,167.4v1.9M122.48,266.3v-1.9M122.48,167.4v1.9M155.32,266.3v-1.9M155.32,167.4v1.9M188.16,266.3v-1.9M188.16,167.4v1.9M56.8,246.52h1.9M221,246.52h-1.9M56.8,226.74h1.9M221,226.74h-1.9M56.8,206.96h1.9M221,206.96h-1.9M56.8,187.18h1.9M221,187.18h-1.9" stroke="#262626" stroke-width="0.8" fill="none"/>
<g font-size="8.5" letter-spacing="0.7">
<text x="56.9" y="277.8" text-anchor="middle">0</text>
<text x="89.74" y="277.8" text-anchor="middle">4</text>
<text x="122.58" y="277.8" text-anchor="middle">8</text>
<text x="155.42" y="277.8" text-anchor="middle">12</text>
<text x="188.26" y="277.8" text-anchor="middle">16</text>
<text x="221.1" y="277.8" text-anchor="middle">20</text>
<text x="52.7" y="270" text-anchor="end">0</text>
<text x="52.7" y="250.22" text-anchor="end">0.1</text>
<text x="52.7" y="230.44" text-anchor="end">0.2</text>
<text x="52.7" y="210.66" text-anchor="end">0.3</text>
<text x="52.7" y="190.88" text-anchor="end">0.4</text>
<text x="52.7" y="171.1" text-anchor="end">0.5</text>
</g>
<text x="0.5" y="162.7" font-size="17.5" fill="#000">(b)</text>
<text x="62.8" y="177.6" font-size="9.6">N=2</text>
<text x="62.3" y="194.1" font-size="8.925">θ</text><path d="M68.5,190.3h4.83M68.5,192.6h4.83" stroke="#1a1a1a" stroke-width="0.8" fill="none"/><text x="75.44" y="194.1" font-size="9.135">0</text>
<path d="M122.8,176.3H151.2" stroke="#0000ff" stroke-width="2.35" fill="none"/>
<text x="153.8" y="178.7" font-size="10.4">Δ</text><path d="M162.3,174.7h5.8M162.3,177h5.8" stroke="#1a1a1a" stroke-width="0.8" fill="none"/><text x="170.4" y="178.7" font-size="9.3">0</text>
<path d="M122.8,186.8H151.2" stroke="#ff0000" stroke-width="2.35" stroke-dasharray="6 5.25" fill="none"/>
<text x="153.8" y="189.2" font-size="10.4">Δ</text><path d="M162.3,185.2h5.8M162.3,187.5h5.8" stroke="#1a1a1a" stroke-width="0.8" fill="none"/><text x="170.4" y="189.2" font-size="9.3">10 meV</text>
<path d="M122.8,198.2H151.2" stroke="#d95319" stroke-width="2.35" stroke-dasharray="5.9 1.5 2.3 1.5" fill="none"/>
<text x="153.8" y="200.6" font-size="10.4">Δ</text><path d="M162.3,196.6h5.8M162.3,198.9h5.8" stroke="#1a1a1a" stroke-width="0.8" fill="none"/><text x="170.4" y="200.6" font-size="9.3">20 meV</text>
<text x="90.7" y="208.75" font-size="17.2" text-anchor="middle">I</text>
<text x="0.5" y="218.8" font-size="10.8" font-style="italic">G</text><path d="M9.2,216.2V222.1M7.8,220.2Q9,220.9 9.2,222.1Q9.4,220.9 10.6,220.2M12.7,222.1V216.2M11.3,218.1Q12.5,217.4 12.7,216.2Q12.9,217.4 14.1,218.1" stroke="#22303c" stroke-width="0.7" fill="none"/><text x="15" y="222.4" font-size="5.8" font-style="italic">K</text><text x="19" y="224.2" font-size="3.8">1</text><text x="21.6" y="219.2" font-size="10.8">/</text><text x="26.6" y="218.8" font-size="10.8" font-style="italic">G</text><text x="33.3" y="222.3" font-size="6.8">0</text>
<text x="119.4" y="290.8" font-size="12.6" font-style="italic">λ</text><text x="124.9" y="294.5" font-size="7.8">R</text><text x="130.5" y="290.2" font-size="9.5">(meV)</text>
<clipPath id="c4"><rect x="283.4" y="166.1" width="164.2" height="102.7"/></clipPath>
<g clip-path="url(#c4)" fill="none" stroke-width="2.35" stroke-linejoin="round">
<path d="M283.4,266.8L284.2,266.7L285.0,266.5L285.9,266.2L286.7,265.7L287.5,265.1L288.3,264.3L289.1,263.4L290.0,262.4L290.8,261.3L291.6,260.0L292.4,258.7L293.3,257.2L294.1,255.7L294.9,254.0L295.7,252.3L296.5,250.6L297.4,248.7L298.2,246.8L299.0,244.9L299.8,242.9L300.6,241.0L301.5,239.0L302.3,237.0L303.1,235.0L303.9,233.0L304.7,231.1L305.6,229.2L306.4,227.3L307.2,225.5L308.0,223.8L308.9,222.2L309.7,220.6L310.5,219.1L311.3,217.7L312.1,216.4L313.0,215.3L313.8,214.2L314.6,213.3L315.4,212.5L316.2,211.8L317.1,211.3L317.9,210.9L318.7,210.7L319.5,210.5L320.3,210.6L321.2,210.7L322.0,211.1L322.8,211.5L323.6,212.1L324.4,212.8L325.3,213.7L326.1,214.7L326.9,215.8L327.7,217.0L328.6,218.4L329.4,219.8L330.2,221.4L331.0,223.0L331.8,224.7L332.7,226.5L333.5,228.3L334.3,230.2L335.1,232.1L335.9,234.1L336.8,236.1L337.6,238.1L338.4,240.1L339.2,242.1L340.0,244.0L340.9,246.0L341.7,247.9L342.5,249.7L343.3,251.5L344.2,253.3L345.0,254.9L345.8,256.5L346.6,257.9L347.4,259.3L348.3,260.6L349.1,261.7L349.9,262.8L350.7,263.7L351.5,264.4L352.4,265.1L353.2,265.6L354.0,265.9L354.8,266.1L355.6,266.2L356.5,266.1L357.3,265.9L358.1,265.6L358.9,265.2L359.8,264.6L360.6,263.9L361.4,263.1L362.2,262.2L363.0,261.1L363.9,260.0L364.7,258.7L365.5,257.4L366.3,256.0L367.1,254.5L368.0,252.9L368.8,251.2L369.6,249.5L370.4,247.8L371.2,246.0L372.1,244.2L372.9,242.3L373.7,240.5L374.5,238.6L375.4,236.8L376.2,234.9L377.0,233.1L377.8,231.3L378.6,229.6L379.5,227.9L380.3,226.2L381.1,224.7L381.9,223.2L382.7,221.7L383.6,220.4L384.4,219.1L385.2,218.0L386.0,217.0L386.8,216.0L387.7,215.2L388.5,214.5L389.3,213.9L390.1,213.5L391.0,213.2L391.8,213.0L392.6,212.9L393.4,213.0L394.2,213.2L395.1,213.5L395.9,214.0L396.7,214.6L397.5,215.4L398.3,216.2L399.2,217.2L400.0,218.3L400.8,219.5L401.6,220.9L402.4,222.3L403.3,223.8L404.1,225.3L404.9,227.0L405.7,228.7L406.6,230.5L407.4,232.3L408.2,234.2L409.0,236.0L409.8,237.9L410.7,239.8L411.5,241.7L412.3,243.6L413.1,245.4L413.9,247.2L414.8,249.0L415.6,250.7L416.4,252.4L417.2,254.0L418.0,255.5L418.9,256.9L419.7,258.2L420.5,259.4L421.3,260.5L422.1,261.5L423.0,262.4L423.8,263.1L424.6,263.7L425.4,264.2L426.3,264.5L427.1,264.8L427.9,264.8L428.7,264.8L429.5,264.6L430.4,264.2L431.2,263.8L432.0,263.2L432.8,262.5L433.6,261.7L434.5,260.8L435.3,259.8L436.1,258.6L436.9,257.4L437.7,256.1L438.6,254.7L439.4,253.2L440.2,251.6L441.0,250.0L441.9,248.3L442.7,246.6L443.5,244.8L444.3,243.1L445.1,241.3L446.0,239.4L446.8,237.6L447.6,235.8" stroke="#0000ff"/>
<path d="M283.4,266.8L284.2,266.7L285.0,266.5L285.9,266.1L286.7,265.6L287.5,265.0L288.3,264.2L289.1,263.3L290.0,262.2L290.8,261.1L291.6,259.8L292.4,258.4L293.3,256.9L294.1,255.4L294.9,253.7L295.7,252.0L296.5,250.2L297.4,248.4L298.2,246.5L299.0,244.6L299.8,242.7L300.6,240.8L301.5,238.9L302.3,237.0L303.1,235.1L303.9,233.3L304.7,231.5L305.6,229.8L306.4,228.1L307.2,226.5L308.0,225.1L308.9,223.7L309.7,222.4L310.5,221.2L311.3,220.2L312.1,219.3L313.0,218.5L313.8,217.8L314.6,217.3L315.4,217.0L316.2,216.7L317.1,216.7L317.9,216.7L318.7,217.0L319.5,217.3L320.3,217.8L321.2,218.5L322.0,219.3L322.8,220.2L323.6,221.2L324.4,222.4L325.3,223.7L326.1,225.1L326.9,226.5L327.7,228.1L328.6,229.8L329.4,231.5L330.2,233.3L331.0,235.1L331.8,237.0L332.7,238.9L333.5,240.8L334.3,242.7L335.1,244.6L335.9,246.5L336.8,248.4L337.6,250.2L338.4,252.0L339.2,253.7L340.0,255.4L340.9,256.9L341.7,258.4L342.5,259.8L343.3,261.1L344.2,262.2L345.0,263.3L345.8,264.2L346.6,265.0L347.4,265.6L348.3,266.1L349.1,266.5L349.9,266.7L350.7,266.8L351.5,266.7L352.4,266.5L353.2,266.1L354.0,265.6L354.8,265.0L355.6,264.2L356.5,263.3L357.3,262.2L358.1,261.1L358.9,259.8L359.8,258.4L360.6,256.9L361.4,255.4L362.2,253.7L363.0,252.0L363.9,250.2L364.7,248.4L365.5,246.5L366.3,244.6L367.1,242.7L368.0,240.8L368.8,238.9L369.6,237.0L370.4,235.1L371.2,233.3L372.1,231.5L372.9,229.8L373.7,228.1L374.5,226.5L375.4,225.1L376.2,223.7L377.0,222.4L377.8,221.2L378.6,220.2L379.5,219.3L380.3,218.5L381.1,217.8L381.9,217.3L382.7,217.0L383.6,216.7L384.4,216.7L385.2,216.7L386.0,217.0L386.8,217.3L387.7,217.8L388.5,218.5L389.3,219.3L390.1,220.2L391.0,221.2L391.8,222.4L392.6,223.7L393.4,225.0L394.2,226.5L395.1,228.1L395.9,229.7L396.7,231.4L397.5,233.2L398.3,235.0L399.2,236.8L400.0,238.7L400.8,240.5L401.6,242.4L402.4,244.3L403.3,246.1L404.1,247.9L404.9,249.7L405.7,251.4L406.6,253.0L407.4,254.6L408.2,256.1L409.0,257.4L409.8,258.7L410.7,259.9L411.5,260.9L412.3,261.8L413.1,262.6L413.9,263.3L414.8,263.8L415.6,264.1L416.4,264.4L417.2,264.4L418.0,264.4L418.9,264.3L419.7,264.0L420.5,263.7L421.3,263.3L422.1,262.9L423.0,262.3L423.8,261.6L424.6,260.9L425.4,260.1L426.3,259.3L427.1,258.3L427.9,257.3L428.7,256.3L429.5,255.1L430.4,254.0L431.2,252.7L432.0,251.5L432.8,250.1L433.6,248.8L434.5,247.4L435.3,246.0L436.1,244.6L436.9,243.2L437.7,241.7L438.6,240.3L439.4,238.9L440.2,237.4L441.0,236.0L441.9,234.6L442.7,233.2L443.5,231.9L444.3,230.6L445.1,229.3L446.0,228.1L446.8,226.9L447.6,225.7" stroke="#ff0000" stroke-dasharray="6 5.25"/>
<path d="M283.4,266.8L284.2,266.7L285.0,266.5L285.9,266.0L286.7,265.4L287.5,264.6L288.3,263.7L289.1,262.7L290.0,261.4L290.8,260.1L291.6,258.6L292.4,257.0L293.3,255.4L294.1,253.6L294.9,251.8L295.7,249.9L296.5,248.0L297.4,246.1L298.2,244.1L299.0,242.2L299.8,240.3L300.6,238.4L301.5,236.6L302.3,234.8L303.1,233.1L303.9,231.5L304.7,230.1L305.6,228.7L306.4,227.5L307.2,226.4L308.0,225.5L308.9,224.8L309.7,224.2L310.5,223.7L311.3,223.5L312.1,223.4L313.0,223.4L313.8,223.6L314.6,223.9L315.4,224.4L316.2,224.9L317.1,225.6L317.9,226.4L318.7,227.3L319.5,228.3L320.3,229.4L321.2,230.6L322.0,231.9L322.8,233.3L323.6,234.7L324.4,236.2L325.3,237.7L326.1,239.3L326.9,241.0L327.7,242.6L328.6,244.3L329.4,245.9L330.2,247.6L331.0,249.2L331.8,250.8L332.7,252.4L333.5,254.0L334.3,255.5L335.1,256.9L335.9,258.2L336.8,259.5L337.6,260.7L338.4,261.8L339.2,262.8L340.0,263.8L340.9,264.5L341.7,265.2L342.5,265.8L343.3,266.2L344.2,266.5L345.0,266.7L345.8,266.8L346.6,266.7L347.4,266.5L348.3,266.1L349.1,265.6L349.9,264.9L350.7,264.1L351.5,263.1L352.4,262.0L353.2,260.8L354.0,259.5L354.8,258.0L355.6,256.5L356.5,254.9L357.3,253.2L358.1,251.5L358.9,249.7L359.8,247.8L360.6,246.0L361.4,244.1L362.2,242.2L363.0,240.4L363.9,238.5L364.7,236.7L365.5,235.0L366.3,233.3L367.1,231.7L368.0,230.2L368.8,228.7L369.6,227.4L370.4,226.2L371.2,225.1L372.1,224.1L372.9,223.3L373.7,222.6L374.5,222.1L375.4,221.7L376.2,221.5L377.0,221.4L377.8,221.5L378.6,221.7L379.5,222.0L380.3,222.4L381.1,223.0L381.9,223.7L382.7,224.5L383.6,225.5L384.4,226.5L385.2,227.6L386.0,228.8L386.8,230.1L387.7,231.5L388.5,233.0L389.3,234.5L390.1,236.1L391.0,237.7L391.8,239.3L392.6,241.0L393.4,242.6L394.2,244.3L395.1,245.9L395.9,247.6L396.7,249.2L397.5,250.7L398.3,252.3L399.2,253.7L400.0,255.1L400.8,256.4L401.6,257.6L402.4,258.8L403.3,259.8L404.1,260.7L404.9,261.5L405.7,262.2L406.6,262.8L407.4,263.3L408.2,263.6L409.0,263.8L409.8,263.8L410.7,263.8L411.5,263.6L412.3,263.2L413.1,262.8L413.9,262.2L414.8,261.5L415.6,260.7L416.4,259.8L417.2,258.7L418.0,257.6L418.9,256.4L419.7,255.1L420.5,253.8L421.3,252.4L422.1,250.9L423.0,249.4L423.8,247.9L424.6,246.4L425.4,244.8L426.3,243.3L427.1,241.8L427.9,240.3L428.7,238.9L429.5,237.5L430.4,236.2L431.2,234.9L432.0,233.8L432.8,232.7L433.6,231.7L434.5,230.8L435.3,230.1L436.1,229.4L436.9,228.9L437.7,228.5L438.6,228.3L439.4,228.1L440.2,228.1L441.0,228.3L441.9,228.6L442.7,229.0L443.5,229.6L444.3,230.2L445.1,231.1L446.0,232.0L446.8,233.1L447.6,234.2" stroke="#d95319" stroke-dasharray="5.9 1.5 2.3 1.5"/>
</g>
<rect x="283.4" y="168.1" width="164.2" height="98.7" fill="none" stroke="#262626" stroke-width="1.2"/>
<path d="M316.24,266.8v-1.9M316.24,168.1v1.9M349.08,266.8v-1.9M349.08,168.1v1.9M381.92,266.8v-1.9M381.92,168.1v1.9M414.76,266.8v-1.9M414.76,168.1v1.9M283.4,247.06h1.9M447.6,247.06h-1.9M283.4,227.32h1.9M447.6,227.32h-1.9M283.4,207.58h1.9M447.6,207.58h-1.9M283.4,187.84h1.9M447.6,187.84h-1.9" stroke="#262626" stroke-width="0.8" fill="none"/>
<g font-size="8.5" letter-spacing="0.7">
<text x="283.5" y="277.4" text-anchor="middle">0</text>
<text x="316.34" y="277.4" text-anchor="middle">4</text>
<text x="349.18" y="277.4" text-anchor="middle">8</text>
<text x="382.02" y="277.4" text-anchor="middle">12</text>
<text x="414.86" y="277.4" text-anchor="middle">16</text>
<text x="447.7" y="277.4" text-anchor="middle">20</text>
<text x="278.9" y="270.5" text-anchor="end">0</text>
<text x="278.9" y="250.76" text-anchor="end">0.1</text>
<text x="278.9" y="231.02" text-anchor="end">0.2</text>
<text x="278.9" y="211.28" text-anchor="end">0.3</text>
<text x="278.9" y="191.54" text-anchor="end">0.4</text>
<text x="278.9" y="171.8" text-anchor="end">0.5</text>
</g>
<text x="287.1" y="177.5" font-size="9.6">N=4</text>
<text x="287.5" y="189.9" font-size="8.925">θ</text><path d="M293.7,186.1h4.83M293.7,188.4h4.83" stroke="#1a1a1a" stroke-width="0.8" fill="none"/><text x="300.63" y="189.9" font-size="9.135">0</text>
<path d="M336.4,178.1H364.8" stroke="#0000ff" stroke-width="2.35" fill="none"/>
<text x="367.5" y="180.5" font-size="10.4">Δ</text><path d="M376,176.5h5.8M376,178.8h5.8" stroke="#1a1a1a" stroke-width="0.8" fill="none"/><text x="384.1" y="180.5" font-size="9.3">0</text>
<path d="M336.4,188.8H364.8" stroke="#ff0000" stroke-width="2.35" stroke-dasharray="6 5.25" fill="none"/>
<text x="367.5" y="191.2" font-size="10.4">Δ</text><path d="M376,187.2h5.8M376,189.5h5.8" stroke="#1a1a1a" stroke-width="0.8" fill="none"/><text x="384.1" y="191.2" font-size="9.3">10 meV</text>
<path d="M336.4,200.0H364.8" stroke="#d95319" stroke-width="2.35" stroke-dasharray="5.9 1.5 2.3 1.5" fill="none"/>
<text x="367.5" y="202.4" font-size="10.4">Δ</text><path d="M376,198.4h5.8M376,200.7h5.8" stroke="#1a1a1a" stroke-width="0.8" fill="none"/><text x="384.1" y="202.4" font-size="9.3">20 meV</text>
<text x="320.7" y="203.75" font-size="17.2" text-anchor="middle">II</text>
<text x="226.8" y="220.3" font-size="10.8" font-style="italic">G</text><path d="M235.5,217.7V223.6M234.1,221.7Q235.3,222.4 235.5,223.6Q235.7,222.4 236.9,221.7M239,223.6V217.7M237.6,219.6Q238.8,218.9 239,217.7Q239.2,218.9 240.4,219.6" stroke="#22303c" stroke-width="0.7" fill="none"/><text x="241.3" y="223.9" font-size="5.8" font-style="italic">K</text><text x="245.3" y="225.7" font-size="3.8">1</text><text x="247.9" y="220.7" font-size="10.8">/</text><text x="252.9" y="220.3" font-size="10.8" font-style="italic">G</text><text x="259.6" y="223.8" font-size="6.8">0</text>
<text x="347.6" y="291.7" font-size="12.6" font-style="italic">λ</text><text x="353.1" y="295.4" font-size="7.8">R</text><text x="358.7" y="291.1" font-size="9.5">(meV)</text>
<clipPath id="c5"><rect x="513.4" y="170.8" width="163.9" height="102.1"/></clipPath>
<g clip-path="url(#c5)" fill="none" stroke-width="2.35" stroke-linejoin="round">
<path d="M513.4,270.9L514.2,270.6L515.0,269.8L515.9,268.4L516.7,266.6L517.5,264.3L518.3,261.5L519.1,258.4L520.0,255.0L520.8,251.3L521.6,247.5L522.4,243.6L523.2,239.7L524.1,235.9L524.9,232.2L525.7,228.7L526.5,225.5L527.3,222.6L528.2,220.1L529.0,218.1L529.8,216.6L530.6,215.6L531.4,215.2L532.2,215.3L533.1,215.9L533.9,217.0L534.7,218.6L535.5,220.7L536.3,223.2L537.2,226.0L538.0,229.1L538.8,232.4L539.6,236.0L540.4,239.6L541.3,243.3L542.1,246.9L542.9,250.4L543.7,253.7L544.5,256.8L545.4,259.5L546.2,261.9L547.0,263.9L547.8,265.4L548.6,266.4L549.5,266.9L550.3,266.9L551.1,266.3L551.9,265.2L552.7,263.6L553.6,261.5L554.4,258.9L555.2,255.9L556.0,252.6L556.8,249.0L557.7,245.3L558.5,241.5L559.3,237.6L560.1,233.8L560.9,230.1L561.8,226.7L562.6,223.5L563.4,220.8L564.2,218.4L565.0,216.5L565.8,215.1L566.7,214.3L567.5,214.0L568.3,214.3L569.1,215.0L569.9,216.3L570.8,218.0L571.6,220.1L572.4,222.7L573.2,225.6L574.0,228.7L574.9,232.2L575.7,235.7L576.5,239.4L577.3,243.1L578.1,246.8L579.0,250.3L579.8,253.7L580.6,256.8L581.4,259.6L582.2,262.1L583.1,264.2L583.9,265.8L584.7,266.9L585.5,267.6L586.3,267.8L587.2,267.4L588.0,266.5L588.8,265.1L589.6,263.2L590.4,260.9L591.3,258.2L592.1,255.2L592.9,251.9L593.7,248.4L594.5,244.9L595.3,241.3L596.2,237.7L597.0,234.3L597.8,231.1L598.6,228.1L599.4,225.5L600.3,223.3L601.1,221.5L601.9,220.2L602.7,219.4L603.5,219.1L604.4,219.4L605.2,220.1L606.0,221.4L606.8,223.1L607.6,225.2L608.5,227.7L609.3,230.6L610.1,233.7L610.9,237.0L611.7,240.4L612.6,244.0L613.4,247.5L614.2,250.9L615.0,254.1L615.8,257.2L616.7,259.9L617.5,262.3L618.3,264.4L619.1,265.9L619.9,267.0L620.8,267.6L621.6,267.7L622.4,267.4L623.2,266.6L624.0,265.3L624.9,263.6L625.7,261.6L626.5,259.2L627.3,256.5L628.1,253.6L628.9,250.5L629.8,247.3L630.6,244.0L631.4,240.8L632.2,237.6L633.0,234.5L633.9,231.7L634.7,229.1L635.5,226.8L636.3,224.9L637.1,223.3L638.0,222.2L638.8,221.5L639.6,221.3L640.4,221.5L641.2,222.3L642.1,223.5L642.9,225.3L643.7,227.4L644.5,229.9L645.3,232.7L646.2,235.8L647.0,239.1L647.8,242.5L648.6,245.9L649.4,249.3L650.3,252.6L651.1,255.7L651.9,258.5L652.7,261.0L653.5,263.2L654.4,264.9L655.2,266.2L656.0,266.9L656.8,267.2L657.6,267.0L658.5,266.3L659.3,265.3L660.1,263.8L660.9,262.1L661.7,259.9L662.5,257.5L663.4,254.9L664.2,252.1L665.0,249.1L665.8,246.1L666.6,243.1L667.5,240.1L668.3,237.2L669.1,234.5L669.9,232.0L670.7,229.7L671.6,227.8L672.4,226.2L673.2,225.0L674.0,224.2L674.8,223.8L675.7,223.8L676.5,224.0L677.3,224.4" stroke="#0000ff"/>
<path d="M513.4,270.9L514.2,270.6L515.0,269.9L515.9,268.6L516.7,266.9L517.5,264.7L518.3,262.2L519.1,259.3L520.0,256.2L520.8,252.9L521.6,249.4L522.4,245.9L523.2,242.4L524.1,239.0L524.9,235.7L525.7,232.7L526.5,230.0L527.3,227.7L528.2,225.7L529.0,224.2L529.8,223.2L530.6,222.7L531.4,222.7L532.2,223.5L533.1,225.1L533.9,227.3L534.7,230.2L535.5,233.6L536.3,237.4L537.2,241.5L538.0,245.7L538.8,249.9L539.6,254.0L540.4,257.8L541.3,261.2L542.1,264.1L542.9,266.3L543.7,267.9L544.5,268.6L545.4,268.7L546.2,268.2L547.0,267.3L547.8,266.0L548.6,264.3L549.5,262.2L550.3,259.7L551.1,257.0L551.9,254.0L552.7,250.9L553.6,247.6L554.4,244.3L555.2,241.0L556.0,237.7L556.8,234.6L557.7,231.6L558.5,228.9L559.3,226.5L560.1,224.4L560.9,222.6L561.8,221.3L562.6,220.4L563.4,219.9L564.2,220.0L565.0,220.5L565.8,221.7L566.7,223.4L567.5,225.5L568.3,228.2L569.1,231.2L569.9,234.5L570.8,238.1L571.6,241.8L572.4,245.6L573.2,249.3L574.0,253.0L574.9,256.4L575.7,259.6L576.5,262.4L577.3,264.8L578.1,266.8L579.0,268.2L579.8,269.0L580.6,269.3L581.4,269.1L582.2,268.3L583.1,267.0L583.9,265.2L584.7,262.9L585.5,260.3L586.3,257.3L587.2,254.1L588.0,250.6L588.8,247.1L589.6,243.5L590.4,239.9L591.3,236.5L592.1,233.3L592.9,230.3L593.7,227.7L594.5,225.4L595.3,223.6L596.2,222.3L597.0,221.5L597.8,221.3L598.6,221.5L599.4,222.3L600.3,223.5L601.1,225.2L601.9,227.3L602.7,229.9L603.5,232.7L604.4,235.8L605.2,239.1L606.0,242.5L606.8,246.0L607.6,249.4L608.5,252.8L609.3,256.0L610.1,259.0L610.9,261.6L611.7,264.0L612.6,265.9L613.4,267.4L614.2,268.4L615.0,268.9L615.8,268.9L616.7,268.2L617.5,266.9L618.3,265.0L619.1,262.5L619.9,259.6L620.8,256.3L621.6,252.6L622.4,248.8L623.2,244.9L624.0,241.0L624.9,237.3L625.7,233.8L626.5,230.7L627.3,227.9L628.1,225.8L628.9,224.1L629.8,223.2L630.6,222.8L631.4,223.1L632.2,224.0L633.0,225.4L633.9,227.3L634.7,229.6L635.5,232.4L636.3,235.5L637.1,238.8L638.0,242.4L638.8,246.0L639.6,249.6L640.4,253.1L641.2,256.5L642.1,259.6L642.9,262.4L643.7,264.7L644.5,266.6L645.3,268.0L646.2,268.8L647.0,269.1L647.8,268.9L648.6,268.0L649.4,266.7L650.3,264.9L651.1,262.7L651.9,260.0L652.7,257.1L653.5,253.9L654.4,250.6L655.2,247.2L656.0,243.8L656.8,240.6L657.6,237.5L658.5,234.7L659.3,232.3L660.1,230.2L660.9,228.6L661.7,227.6L662.5,227.0L663.4,227.0L664.2,227.4L665.0,228.3L665.8,229.6L666.6,231.2L667.5,233.2L668.3,235.5L669.1,238.1L669.9,240.8L670.7,243.7L671.6,246.7L672.4,249.7L673.2,252.7L674.0,255.6L674.8,258.3L675.7,260.8L676.5,263.1L677.3,265.0" stroke="#ff0000" stroke-dasharray="6 5.25"/>
<path d="M513.4,270.9L514.2,270.6L515.0,269.9L515.9,268.6L516.7,266.9L517.5,264.8L518.3,262.3L519.1,259.5L520.0,256.5L520.8,253.4L521.6,250.2L522.4,247.0L523.2,243.9L524.1,241.0L524.9,238.4L525.7,236.1L526.5,234.2L527.3,232.7L528.2,231.7L529.0,231.1L529.8,231.2L530.6,231.8L531.4,233.0L532.2,234.8L533.1,237.1L533.9,239.8L534.7,242.9L535.5,246.2L536.3,249.7L537.2,253.1L538.0,256.4L538.8,259.6L539.6,262.4L540.4,264.8L541.3,266.7L542.1,268.0L542.9,268.8L543.7,268.9L544.5,268.5L545.4,267.7L546.2,266.4L547.0,264.6L547.8,262.6L548.6,260.1L549.5,257.4L550.3,254.5L551.1,251.5L551.9,248.4L552.7,245.4L553.6,242.4L554.4,239.6L555.2,237.1L556.0,234.8L556.8,232.9L557.7,231.4L558.5,230.3L559.3,229.7L560.1,229.5L560.9,229.9L561.8,230.8L562.6,232.2L563.4,234.0L564.2,236.3L565.0,238.9L565.8,241.7L566.7,244.8L567.5,248.0L568.3,251.3L569.1,254.4L569.9,257.5L570.8,260.3L571.6,262.9L572.4,265.0L573.2,266.8L574.0,268.1L574.9,268.9L575.7,269.1L576.5,268.9L577.3,268.2L578.1,267.0L579.0,265.4L579.8,263.5L580.6,261.1L581.4,258.5L582.2,255.6L583.1,252.6L583.9,249.5L584.7,246.3L585.5,243.2L586.3,240.2L587.2,237.4L588.0,234.9L588.8,232.6L589.6,230.7L590.4,229.2L591.3,228.1L592.1,227.5L592.9,227.4L593.7,227.9L594.5,229.0L595.3,230.9L596.2,233.3L597.0,236.3L597.8,239.6L598.6,243.2L599.4,247.0L600.3,250.8L601.1,254.4L601.9,257.9L602.7,260.9L603.5,263.5L604.4,265.6L605.2,267.0L606.0,267.7L606.8,267.7L607.6,267.2L608.5,266.2L609.3,264.8L610.1,263.0L610.9,260.8L611.7,258.2L612.6,255.5L613.4,252.5L614.2,249.5L615.0,246.4L615.8,243.4L616.7,240.6L617.5,237.9L618.3,235.5L619.1,233.5L619.9,231.9L620.8,230.7L621.6,229.9L622.4,229.7L623.2,230.0L624.0,230.8L624.9,232.2L625.7,234.1L626.5,236.4L627.3,239.1L628.1,242.0L628.9,245.2L629.8,248.4L630.6,251.7L631.4,254.8L632.2,257.8L633.0,260.5L633.9,262.8L634.7,264.7L635.5,266.0L636.3,266.9L637.1,267.2L638.0,266.9L638.8,266.1L639.6,264.8L640.4,263.1L641.2,260.9L642.1,258.4L642.9,255.7L643.7,252.7L644.5,249.7L645.3,246.7L646.2,243.7L647.0,241.0L647.8,238.5L648.6,236.3L649.4,234.6L650.3,233.3L651.1,232.5L651.9,232.2L652.7,232.5L653.5,233.1L654.4,234.2L655.2,235.7L656.0,237.6L656.8,239.8L657.6,242.2L658.5,244.8L659.3,247.5L660.1,250.2L660.9,252.9L661.7,255.5L662.5,257.9L663.4,260.1L664.2,261.9L665.0,263.4L665.8,264.5L666.6,265.2L667.5,265.4L668.3,265.3L669.1,264.9L669.9,264.2L670.7,263.3L671.6,262.2L672.4,260.8L673.2,259.3L674.0,257.5L674.8,255.7L675.7,253.7L676.5,251.6L677.3,249.5" stroke="#d95319" stroke-dasharray="5.9 1.5 2.3 1.5"/>
</g>
<rect x="513.4" y="172.8" width="163.9" height="98.1" fill="none" stroke="#262626" stroke-width="1.2"/>
<path d="M546.18,270.9v-1.9M546.18,172.8v1.9M578.96,270.9v-1.9M578.96,172.8v1.9M611.74,270.9v-1.9M611.74,172.8v1.9M644.52,270.9v-1.9M644.52,172.8v1.9M513.4,251.28h1.9M677.3,251.28h-1.9M513.4,231.66h1.9M677.3,231.66h-1.9M513.4,212.04h1.9M677.3,212.04h-1.9M513.4,192.42h1.9M677.3,192.42h-1.9" stroke="#262626" stroke-width="0.8" fill="none"/>
<g font-size="8.5" letter-spacing="0.7">
<text x="513.5" y="281.9" text-anchor="middle">0</text>
<text x="546.28" y="281.9" text-anchor="middle">4</text>
<text x="579.06" y="281.9" text-anchor="middle">8</text>
<text x="611.84" y="281.9" text-anchor="middle">12</text>
<text x="644.62" y="281.9" text-anchor="middle">16</text>
<text x="677.4" y="281.9" text-anchor="middle">20</text>
<text x="509" y="274.6" text-anchor="end">0</text>
<text x="509" y="254.98" text-anchor="end">0.1</text>
<text x="509" y="235.36" text-anchor="end">0.2</text>
<text x="509" y="215.74" text-anchor="end">0.3</text>
<text x="509" y="196.12" text-anchor="end">0.4</text>
<text x="509" y="176.5" text-anchor="end">0.5</text>
</g>
<text x="515.4" y="181.5" font-size="9.6">N=8</text>
<text x="517.3" y="195" font-size="8.925">θ</text><path d="M523.5,191.2h4.83M523.5,193.5h4.83" stroke="#1a1a1a" stroke-width="0.8" fill="none"/><text x="530.44" y="195" font-size="9.135">0</text>
<path d="M565.8,184.0H594.4" stroke="#0000ff" stroke-width="2.35" fill="none"/>
<text x="596.7" y="186.4" font-size="10.4">Δ</text><path d="M605.2,182.4h5.8M605.2,184.7h5.8" stroke="#1a1a1a" stroke-width="0.8" fill="none"/><text x="613.3" y="186.4" font-size="9.3">0</text>
<path d="M565.8,194.2H594.4" stroke="#ff0000" stroke-width="2.35" stroke-dasharray="6 5.25" fill="none"/>
<text x="596.7" y="196.6" font-size="10.4">Δ</text><path d="M605.2,192.6h5.8M605.2,194.9h5.8" stroke="#1a1a1a" stroke-width="0.8" fill="none"/><text x="613.3" y="196.6" font-size="9.3">10 meV</text>
<path d="M565.8,205.2H594.4" stroke="#d95319" stroke-width="2.35" stroke-dasharray="5.9 1.5 2.3 1.5" fill="none"/>
<text x="596.7" y="207.6" font-size="10.4">Δ</text><path d="M605.2,203.6h5.8M605.2,205.9h5.8" stroke="#1a1a1a" stroke-width="0.8" fill="none"/><text x="613.3" y="207.6" font-size="9.3">20 meV</text>
<text x="545" y="214.75" font-size="17.2" text-anchor="middle">III</text>
<text x="457.7" y="225.1" font-size="10.8" font-style="italic">G</text><path d="M466.4,222.5V228.4M465,226.5Q466.2,227.2 466.4,228.4Q466.6,227.2 467.8,226.5M469.9,228.4V222.5M468.5,224.4Q469.7,223.7 469.9,222.5Q470.1,223.7 471.3,224.4" stroke="#22303c" stroke-width="0.7" fill="none"/><text x="472.2" y="228.7" font-size="5.8" font-style="italic">K</text><text x="476.2" y="230.5" font-size="3.8">1</text><text x="478.8" y="225.5" font-size="10.8">/</text><text x="483.8" y="225.1" font-size="10.8" font-style="italic">G</text><text x="490.5" y="228.6" font-size="6.8">0</text>
<text x="576.9" y="294.1" font-size="12.6" font-style="italic">λ</text><text x="582.4" y="297.8" font-size="7.8">R</text><text x="588" y="293.5" font-size="9.5">(meV)</text>
<clipPath id="c6"><rect x="57.8" y="319.1" width="163.2" height="102.7"/></clipPath>
<g clip-path="url(#c6)" fill="none" stroke-width="2.35" stroke-linejoin="round">
<path d="M57.8,368.1L58.6,368.1L59.4,368.2L60.2,368.3L61.1,368.4L61.9,368.6L62.7,368.8L63.5,369.1L64.3,369.4L65.1,369.7L66.0,370.1L66.8,370.5L67.6,371.0L68.4,371.5L69.2,372.0L70.0,372.5L70.9,373.1L71.7,373.8L72.5,374.4L73.3,375.1L74.1,375.8L74.9,376.6L75.8,377.3L76.6,378.1L77.4,379.0L78.2,379.8L79.0,380.7L79.8,381.6L80.6,382.5L81.5,383.4L82.3,384.3L83.1,385.3L83.9,386.2L84.7,387.2L85.5,388.2L86.4,389.2L87.2,390.2L88.0,391.2L88.8,392.2L89.6,393.2L90.4,394.3L91.3,395.3L92.1,396.3L92.9,397.3L93.7,398.3L94.5,399.3L95.3,400.3L96.2,401.2L97.0,402.2L97.8,403.1L98.6,404.0L99.4,404.9L100.2,405.8L101.0,406.7L101.9,407.5L102.7,408.4L103.5,409.2L104.3,409.9L105.1,410.7L105.9,411.4L106.8,412.1L107.6,412.7L108.4,413.4L109.2,414.0L110.0,414.5L110.8,415.0L111.7,415.5L112.5,416.0L113.3,416.4L114.1,416.8L114.9,417.1L115.7,417.4L116.6,417.7L117.4,417.9L118.2,418.1L119.0,418.2L119.8,418.3L120.6,418.4L121.4,418.4L122.3,418.4L123.1,418.3L123.9,418.2L124.7,418.1L125.5,417.9L126.3,417.7L127.2,417.4L128.0,417.1L128.8,416.8L129.6,416.4L130.4,416.0L131.2,415.5L132.1,415.0L132.9,414.5L133.7,413.9L134.5,413.3L135.3,412.7L136.1,412.0L137.0,411.3L137.8,410.5L138.6,409.8L139.4,409.0L140.2,408.2L141.0,407.3L141.8,406.4L142.7,405.5L143.5,404.6L144.3,403.7L145.1,402.7L145.9,401.7L146.7,400.7L147.6,399.7L148.4,398.7L149.2,397.6L150.0,396.5L150.8,395.5L151.6,394.4L152.5,393.3L153.3,392.2L154.1,391.1L154.9,390.0L155.7,388.9L156.5,387.8L157.4,386.7L158.2,385.6L159.0,384.5L159.8,383.4L160.6,382.3L161.4,381.3L162.2,380.2L163.1,379.2L163.9,378.1L164.7,377.1L165.5,376.1L166.3,375.1L167.1,374.2L168.0,373.2L168.8,372.3L169.6,371.4L170.4,370.5L171.2,369.7L172.0,368.8L172.9,368.0L173.7,367.3L174.5,366.5L175.3,365.8L176.1,365.2L176.9,364.5L177.8,363.9L178.6,363.3L179.4,362.8L180.2,362.3L181.0,361.9L181.8,361.4L182.6,361.1L183.5,360.7L184.3,360.4L185.1,360.1L185.9,359.9L186.7,359.7L187.5,359.6L188.4,359.5L189.2,359.4L190.0,359.4L190.8,359.4L191.6,359.5L192.4,359.6L193.3,359.8L194.1,360.0L194.9,360.2L195.7,360.5L196.5,360.8L197.3,361.2L198.2,361.6L199.0,362.1L199.8,362.6L200.6,363.1L201.4,363.7L202.2,364.3L203.0,365.0L203.9,365.6L204.7,366.4L205.5,367.1L206.3,367.9L207.1,368.7L207.9,369.6L208.8,370.5L209.6,371.4L210.4,372.3L211.2,373.3L212.0,374.3L212.8,375.3L213.7,376.3L214.5,377.4L215.3,378.4L216.1,379.5L216.9,380.6L217.7,381.7L218.6,382.8L219.4,384.0L220.2,385.1L221.0,386.2" stroke="#0000ff"/>
<path d="M57.8,356.0L58.6,356.2L59.4,356.3L60.2,356.5L61.1,356.8L61.9,357.1L62.7,357.4L63.5,357.8L64.3,358.2L65.1,358.6L66.0,359.1L66.8,359.6L67.6,360.2L68.4,360.7L69.2,361.3L70.0,362.0L70.9,362.7L71.7,363.4L72.5,364.1L73.3,364.9L74.1,365.7L74.9,366.5L75.8,367.3L76.6,368.2L77.4,369.1L78.2,370.0L79.0,370.9L79.8,371.9L80.6,372.9L81.5,373.8L82.3,374.9L83.1,375.9L83.9,376.9L84.7,378.0L85.5,379.0L86.4,380.1L87.2,381.2L88.0,382.3L88.8,383.3L89.6,384.4L90.4,385.5L91.3,386.6L92.1,387.7L92.9,388.8L93.7,389.9L94.5,391.0L95.3,392.1L96.2,393.2L97.0,394.3L97.8,395.3L98.6,396.4L99.4,397.4L100.2,398.4L101.0,399.4L101.9,400.4L102.7,401.4L103.5,402.4L104.3,403.3L105.1,404.2L105.9,405.1L106.8,406.0L107.6,406.8L108.4,407.6L109.2,408.4L110.0,409.2L110.8,409.9L111.7,410.6L112.5,411.3L113.3,411.9L114.1,412.5L114.9,413.1L115.7,413.7L116.6,414.2L117.4,414.6L118.2,415.1L119.0,415.5L119.8,415.9L120.6,416.2L121.4,416.5L122.3,416.7L123.1,416.9L123.9,417.1L124.7,417.3L125.5,417.4L126.3,417.4L127.2,417.4L128.0,417.4L128.8,417.3L129.6,417.2L130.4,417.1L131.2,416.9L132.1,416.6L132.9,416.3L133.7,416.0L134.5,415.6L135.3,415.2L136.1,414.8L137.0,414.3L137.8,413.7L138.6,413.1L139.4,412.5L140.2,411.9L141.0,411.2L141.8,410.4L142.7,409.7L143.5,408.9L144.3,408.0L145.1,407.2L145.9,406.3L146.7,405.3L147.6,404.4L148.4,403.4L149.2,402.4L150.0,401.3L150.8,400.3L151.6,399.2L152.5,398.1L153.3,396.9L154.1,395.8L154.9,394.6L155.7,393.5L156.5,392.3L157.4,391.1L158.2,389.9L159.0,388.6L159.8,387.4L160.6,386.2L161.4,384.9L162.2,383.7L163.1,382.5L163.9,381.2L164.7,380.0L165.5,378.8L166.3,377.5L167.1,376.3L168.0,375.1L168.8,373.9L169.6,372.7L170.4,371.5L171.2,370.4L172.0,369.2L172.9,368.1L173.7,367.0L174.5,365.9L175.3,364.8L176.1,363.8L176.9,362.8L177.8,361.8L178.6,360.8L179.4,359.9L180.2,359.0L181.0,358.1L181.8,357.3L182.6,356.5L183.5,355.7L184.3,355.0L185.1,354.3L185.9,353.7L186.7,353.0L187.5,352.5L188.4,351.9L189.2,351.4L190.0,351.0L190.8,350.5L191.6,350.2L192.4,349.8L193.3,349.5L194.1,349.3L194.9,349.1L195.7,348.9L196.5,348.8L197.3,348.8L198.2,348.7L199.0,348.8L199.8,348.8L200.6,348.9L201.4,349.0L202.2,349.2L203.0,349.4L203.9,349.6L204.7,349.8L205.5,350.1L206.3,350.4L207.1,350.8L207.9,351.2L208.8,351.6L209.6,352.1L210.4,352.5L211.2,353.0L212.0,353.6L212.8,354.2L213.7,354.8L214.5,355.4L215.3,356.0L216.1,356.7L216.9,357.4L217.7,358.2L218.6,358.9L219.4,359.7L220.2,360.5L221.0,361.4" stroke="#ff0000" stroke-dasharray="6 5.25"/>
<path d="M57.8,343.6L58.6,343.8L59.4,343.9L60.2,344.2L61.1,344.5L61.9,344.8L62.7,345.2L63.5,345.6L64.3,346.0L65.1,346.5L66.0,347.0L66.8,347.6L67.6,348.2L68.4,348.8L69.2,349.5L70.0,350.2L70.9,351.0L71.7,351.8L72.5,352.6L73.3,353.4L74.1,354.3L74.9,355.2L75.8,356.2L76.6,357.2L77.4,358.2L78.2,359.2L79.0,360.2L79.8,361.3L80.6,362.4L81.5,363.5L82.3,364.7L83.1,365.8L83.9,367.0L84.7,368.2L85.5,369.4L86.4,370.6L87.2,371.8L88.0,373.0L88.8,374.3L89.6,375.5L90.4,376.8L91.3,378.0L92.1,379.3L92.9,380.6L93.7,381.8L94.5,383.1L95.3,384.3L96.2,385.6L97.0,386.8L97.8,388.1L98.6,389.3L99.4,390.5L100.2,391.7L101.0,392.9L101.9,394.0L102.7,395.2L103.5,396.3L104.3,397.5L105.1,398.5L105.9,399.6L106.8,400.7L107.6,401.7L108.4,402.7L109.2,403.7L110.0,404.6L110.8,405.5L111.7,406.4L112.5,407.3L113.3,408.1L114.1,408.9L114.9,409.6L115.7,410.3L116.6,411.0L117.4,411.7L118.2,412.3L119.0,412.8L119.8,413.4L120.6,413.8L121.4,414.3L122.3,414.7L123.1,415.1L123.9,415.4L124.7,415.7L125.5,415.9L126.3,416.1L127.2,416.2L128.0,416.4L128.8,416.4L129.6,416.4L130.4,416.4L131.2,416.3L132.1,416.2L132.9,416.1L133.7,415.8L134.5,415.6L135.3,415.3L136.1,414.9L137.0,414.5L137.8,414.1L138.6,413.6L139.4,413.0L140.2,412.4L141.0,411.8L141.8,411.2L142.7,410.4L143.5,409.7L144.3,408.9L145.1,408.1L145.9,407.2L146.7,406.3L147.6,405.4L148.4,404.4L149.2,403.4L150.0,402.3L150.8,401.3L151.6,400.2L152.5,399.0L153.3,397.9L154.1,396.7L154.9,395.5L155.7,394.3L156.5,393.0L157.4,391.8L158.2,390.5L159.0,389.2L159.8,387.8L160.6,386.5L161.4,385.2L162.2,383.8L163.1,382.5L163.9,381.1L164.7,379.7L165.5,378.3L166.3,377.0L167.1,375.6L168.0,374.2L168.8,372.8L169.6,371.5L170.4,370.1L171.2,368.8L172.0,367.4L172.9,366.1L173.7,364.8L174.5,363.5L175.3,362.2L176.1,360.9L176.9,359.7L177.8,358.4L178.6,357.2L179.4,356.0L180.2,354.9L181.0,353.8L181.8,352.7L182.6,351.6L183.5,350.5L184.3,349.5L185.1,348.6L185.9,347.6L186.7,346.7L187.5,345.9L188.4,345.0L189.2,344.2L190.0,343.5L190.8,342.8L191.6,342.1L192.4,341.5L193.3,340.9L194.1,340.4L194.9,339.9L195.7,339.4L196.5,339.0L197.3,338.7L198.2,338.3L199.0,338.1L199.8,337.9L200.6,337.7L201.4,337.6L202.2,337.5L203.0,337.5L203.9,337.5L204.7,337.6L205.5,337.7L206.3,337.9L207.1,338.1L207.9,338.4L208.8,338.7L209.6,339.0L210.4,339.4L211.2,339.9L212.0,340.4L212.8,341.0L213.7,341.5L214.5,342.2L215.3,342.9L216.1,343.6L216.9,344.3L217.7,345.1L218.6,346.0L219.4,346.9L220.2,347.8L221.0,348.7" stroke="#d95319" stroke-dasharray="5.9 1.5 2.3 1.5"/>
</g>
<rect x="57.8" y="321.1" width="163.2" height="98.7" fill="none" stroke="#262626" stroke-width="1.2"/>
<path d="M90.44,419.8v-1.9M90.44,321.1v1.9M123.08,419.8v-1.9M123.08,321.1v1.9M155.72,419.8v-1.9M155.72,321.1v1.9M188.36,419.8v-1.9M188.36,321.1v1.9M57.8,400.06h1.9M221,400.06h-1.9M57.8,380.32h1.9M221,380.32h-1.9M57.8,360.58h1.9M221,360.58h-1.9M57.8,340.84h1.9M221,340.84h-1.9" stroke="#262626" stroke-width="0.8" fill="none"/>
<g font-size="8.5" letter-spacing="0.7">
<text x="57.9" y="431.5" text-anchor="middle">0</text>
<text x="90.54" y="431.5" text-anchor="middle">4</text>
<text x="123.18" y="431.5" text-anchor="middle">8</text>
<text x="155.82" y="431.5" text-anchor="middle">12</text>
<text x="188.46" y="431.5" text-anchor="middle">16</text>
<text x="221.1" y="431.5" text-anchor="middle">20</text>
<text x="53" y="423.5" text-anchor="end">0</text>
<text x="53" y="403.76" text-anchor="end">0.1</text>
<text x="53" y="384.02" text-anchor="end">0.2</text>
<text x="53" y="364.28" text-anchor="end">0.3</text>
<text x="53" y="344.54" text-anchor="end">0.4</text>
<text x="53" y="324.8" text-anchor="end">0.5</text>
</g>
<text x="2.1" y="317" font-size="17.5" fill="#000">(c)</text>
<text x="62.1" y="331" font-size="9.6">N=2</text>
<text x="108.3" y="378.2" font-size="10.4">Δ</text><path d="M116.8,374.2h5.8M116.8,376.5h5.8" stroke="#1a1a1a" stroke-width="0.8" fill="none"/><text x="124.9" y="378.2" font-size="9.3">10 meV</text>
<path d="M113.8,330.8H142.2" stroke="#0000ff" stroke-width="2.35" fill="none"/>
<text x="147" y="333.5" font-size="8.5">θ</text><path d="M152.9,329.7h4.6M152.9,332h4.6" stroke="#1a1a1a" stroke-width="0.8" fill="none"/><text x="159.5" y="333.5" font-size="8.7">0</text>
<path d="M113.8,341.3H142.2" stroke="#ff0000" stroke-width="2.35" stroke-dasharray="6 5.25" fill="none"/>
<text x="147" y="344" font-size="8.5">θ</text><path d="M152.9,340.2h4.6M152.9,342.5h4.6" stroke="#1a1a1a" stroke-width="0.8" fill="none"/><text x="159.8" y="344" font-size="9.0">π</text><text x="165.8" y="344" font-size="9.0">/</text><text x="169.5" y="344" font-size="9.0">12</text>
<path d="M113.8,352.6H142.2" stroke="#d95319" stroke-width="2.35" stroke-dasharray="5.9 1.5 2.3 1.5" fill="none"/>
<text x="147" y="355.3" font-size="8.5">θ</text><path d="M152.9,351.5h4.6M152.9,353.8h4.6" stroke="#1a1a1a" stroke-width="0.8" fill="none"/><text x="159.8" y="355.3" font-size="9.0">π</text><text x="165.8" y="355.3" font-size="9.0">/</text><text x="169.5" y="355.3" font-size="9.0">6</text>
<text x="96.7" y="358.05" font-size="17.2" text-anchor="middle">I</text>
<text x="0.5" y="369.5" font-size="10.8" font-style="italic">G</text><path d="M9.2,372.8V366.9M7.8,368.8Q9,368.1 9.2,366.9Q9.4,368.1 10.6,368.8M12.7,372.8V366.9M11.3,368.8Q12.5,368.1 12.7,366.9Q12.9,368.1 14.1,368.8" stroke="#22303c" stroke-width="0.7" fill="none"/><text x="15" y="373.1" font-size="5.8" font-style="italic">K</text><text x="19" y="374.9" font-size="3.8">1</text><text x="21.6" y="369.9" font-size="10.8">/</text><text x="26.6" y="369.5" font-size="10.8" font-style="italic">G</text><text x="33.3" y="373" font-size="6.8">0</text>
<text x="121.9" y="443.6" font-size="12.6" font-style="italic">λ</text><text x="127.4" y="447.3" font-size="7.8">R</text><text x="133" y="443" font-size="9.5">(meV)</text>
<clipPath id="c7"><rect x="283.7" y="323.8" width="163.6" height="102.7"/></clipPath>
<g clip-path="url(#c7)" fill="none" stroke-width="2.35" stroke-linejoin="round">
<path d="M283.7,376.1L284.5,376.2L285.3,376.4L286.2,376.8L287.0,377.3L287.8,377.9L288.6,378.7L289.4,379.6L290.2,380.6L291.1,381.8L291.9,383.0L292.7,384.4L293.5,385.8L294.3,387.4L295.2,389.0L296.0,390.6L296.8,392.4L297.6,394.1L298.4,396.0L299.2,397.8L300.1,399.6L300.9,401.5L301.7,403.3L302.5,405.1L303.3,406.9L304.1,408.6L305.0,410.3L305.8,411.9L306.6,413.4L307.4,414.9L308.2,416.2L309.1,417.5L309.9,418.6L310.7,419.7L311.5,420.6L312.3,421.3L313.1,422.0L314.0,422.5L314.8,422.8L315.6,423.0L316.4,423.1L317.2,423.0L318.1,422.8L318.9,422.5L319.7,422.0L320.5,421.4L321.3,420.6L322.1,419.7L323.0,418.7L323.8,417.6L324.6,416.4L325.4,415.1L326.2,413.6L327.1,412.1L327.9,410.5L328.7,408.9L329.5,407.1L330.3,405.4L331.1,403.6L332.0,401.7L332.8,399.8L333.6,397.9L334.4,396.1L335.2,394.2L336.1,392.3L336.9,390.5L337.7,388.8L338.5,387.0L339.3,385.4L340.1,383.8L341.0,382.3L341.8,380.8L342.6,379.5L343.4,378.3L344.2,377.2L345.1,376.2L345.9,375.3L346.7,374.5L347.5,373.9L348.3,373.4L349.1,373.1L350.0,372.9L350.8,372.8L351.6,372.9L352.4,373.1L353.2,373.5L354.0,374.0L354.9,374.7L355.7,375.5L356.5,376.5L357.3,377.6L358.1,378.8L359.0,380.2L359.8,381.6L360.6,383.2L361.4,384.8L362.2,386.5L363.0,388.3L363.9,390.2L364.7,392.1L365.5,394.0L366.3,396.0L367.1,397.9L368.0,399.9L368.8,401.9L369.6,403.8L370.4,405.7L371.2,407.6L372.0,409.4L372.9,411.1L373.7,412.7L374.5,414.3L375.3,415.7L376.1,417.1L377.0,418.3L377.8,419.4L378.6,420.4L379.4,421.2L380.2,421.9L381.0,422.4L381.9,422.8L382.7,423.0L383.5,423.1L384.3,423.0L385.1,422.8L385.9,422.5L386.8,422.0L387.6,421.3L388.4,420.6L389.2,419.7L390.0,418.6L390.9,417.5L391.7,416.2L392.5,414.9L393.3,413.4L394.1,411.9L394.9,410.2L395.8,408.5L396.6,406.8L397.4,405.0L398.2,403.1L399.0,401.3L399.9,399.4L400.7,397.5L401.5,395.6L402.3,393.7L403.1,391.9L403.9,390.1L404.8,388.3L405.6,386.7L406.4,385.0L407.2,383.5L408.0,382.0L408.9,380.7L409.7,379.4L410.5,378.3L411.3,377.2L412.1,376.3L412.9,375.6L413.8,374.9L414.6,374.4L415.4,374.1L416.2,373.8L417.0,373.8L417.9,373.8L418.7,374.0L419.5,374.3L420.3,374.8L421.1,375.3L421.9,376.0L422.8,376.8L423.6,377.7L424.4,378.7L425.2,379.8L426.0,381.0L426.9,382.3L427.7,383.7L428.5,385.1L429.3,386.6L430.1,388.2L430.9,389.8L431.8,391.5L432.6,393.2L433.4,394.9L434.2,396.7L435.0,398.4L435.8,400.2L436.7,401.9L437.5,403.6L438.3,405.3L439.1,407.0L439.9,408.6L440.8,410.1L441.6,411.6L442.4,413.1L443.2,414.4L444.0,415.7L444.8,416.8L445.7,417.9L446.5,418.9L447.3,419.8" stroke="#0000ff"/>
<path d="M283.7,379.6L284.5,380.0L285.3,380.4L286.2,381.0L287.0,381.7L287.8,382.5L288.6,383.4L289.4,384.3L290.2,385.4L291.1,386.5L291.9,387.7L292.7,389.0L293.5,390.3L294.3,391.7L295.2,393.1L296.0,394.6L296.8,396.1L297.6,397.6L298.4,399.2L299.2,400.7L300.1,402.3L300.9,403.8L301.7,405.4L302.5,406.9L303.3,408.4L304.1,409.9L305.0,411.3L305.8,412.7L306.6,414.0L307.4,415.3L308.2,416.5L309.1,417.6L309.9,418.7L310.7,419.6L311.5,420.5L312.3,421.3L313.1,422.0L314.0,422.6L314.8,423.0L315.6,423.4L316.4,423.7L317.2,423.9L318.1,423.9L318.9,423.8L319.7,423.6L320.5,423.3L321.3,422.9L322.1,422.3L323.0,421.6L323.8,420.8L324.6,419.8L325.4,418.8L326.2,417.7L327.1,416.4L327.9,415.1L328.7,413.6L329.5,412.1L330.3,410.5L331.1,408.9L332.0,407.2L332.8,405.4L333.6,403.6L334.4,401.8L335.2,400.0L336.1,398.1L336.9,396.2L337.7,394.4L338.5,392.5L339.3,390.7L340.1,388.9L341.0,387.1L341.8,385.4L342.6,383.8L343.4,382.2L344.2,380.7L345.1,379.3L345.9,377.9L346.7,376.7L347.5,375.5L348.3,374.5L349.1,373.5L350.0,372.7L350.8,372.0L351.6,371.4L352.4,371.0L353.2,370.7L354.0,370.5L354.9,370.4L355.7,370.5L356.5,370.7L357.3,371.1L358.1,371.6L359.0,372.3L359.8,373.1L360.6,374.0L361.4,375.1L362.2,376.2L363.0,377.6L363.9,379.0L364.7,380.5L365.5,382.1L366.3,383.8L367.1,385.6L368.0,387.4L368.8,389.3L369.6,391.2L370.4,393.2L371.2,395.2L372.0,397.2L372.9,399.2L373.7,401.1L374.5,403.1L375.3,405.0L376.1,406.9L377.0,408.8L377.8,410.5L378.6,412.2L379.4,413.8L380.2,415.4L381.0,416.8L381.9,418.1L382.7,419.3L383.5,420.3L384.3,421.3L385.1,422.1L385.9,422.7L386.8,423.2L387.6,423.6L388.4,423.8L389.2,423.9L390.0,423.8L390.9,423.6L391.7,423.3L392.5,422.8L393.3,422.1L394.1,421.3L394.9,420.4L395.8,419.4L396.6,418.2L397.4,417.0L398.2,415.6L399.0,414.1L399.9,412.5L400.7,410.9L401.5,409.1L402.3,407.3L403.1,405.5L403.9,403.6L404.8,401.6L405.6,399.6L406.4,397.7L407.2,395.7L408.0,393.7L408.9,391.7L409.7,389.8L410.5,387.9L411.3,386.0L412.1,384.2L412.9,382.5L413.8,380.8L414.6,379.2L415.4,377.8L416.2,376.4L417.0,375.1L417.9,373.9L418.7,372.9L419.5,372.0L420.3,371.2L421.1,370.6L421.9,370.1L422.8,369.7L423.6,369.5L424.4,369.4L425.2,369.5L426.0,369.6L426.9,369.9L427.7,370.2L428.5,370.6L429.3,371.1L430.1,371.7L430.9,372.4L431.8,373.2L432.6,374.1L433.4,375.0L434.2,376.0L435.0,377.1L435.8,378.2L436.7,379.5L437.5,380.7L438.3,382.1L439.1,383.4L439.9,384.9L440.8,386.3L441.6,387.8L442.4,389.4L443.2,390.9L444.0,392.5L444.8,394.1L445.7,395.7L446.5,397.3L447.3,398.8" stroke="#ff0000" stroke-dasharray="6 5.25"/>
<path d="M283.7,364.9L284.5,365.3L285.3,365.9L286.2,366.6L287.0,367.5L287.8,368.4L288.6,369.5L289.4,370.6L290.2,371.9L291.1,373.3L291.9,374.7L292.7,376.3L293.5,377.9L294.3,379.6L295.2,381.3L296.0,383.1L296.8,385.0L297.6,386.9L298.4,388.8L299.2,390.8L300.1,392.7L300.9,394.7L301.7,396.6L302.5,398.6L303.3,400.5L304.1,402.4L305.0,404.3L305.8,406.1L306.6,407.8L307.4,409.5L308.2,411.2L309.1,412.7L309.9,414.2L310.7,415.5L311.5,416.8L312.3,418.0L313.1,419.0L314.0,420.0L314.8,420.8L315.6,421.5L316.4,422.1L317.2,422.5L318.1,422.9L318.9,423.1L319.7,423.1L320.5,423.0L321.3,422.8L322.1,422.4L323.0,421.9L323.8,421.3L324.6,420.5L325.4,419.5L326.2,418.5L327.1,417.3L327.9,415.9L328.7,414.5L329.5,412.9L330.3,411.3L331.1,409.6L332.0,407.7L332.8,405.8L333.6,403.9L334.4,401.8L335.2,399.8L336.1,397.7L336.9,395.5L337.7,393.4L338.5,391.2L339.3,389.0L340.1,386.9L341.0,384.7L341.8,382.7L342.6,380.6L343.4,378.6L344.2,376.7L345.1,374.8L345.9,373.0L346.7,371.3L347.5,369.7L348.3,368.2L349.1,366.9L350.0,365.6L350.8,364.5L351.6,363.5L352.4,362.6L353.2,361.8L354.0,361.3L354.9,360.8L355.7,360.5L356.5,360.4L357.3,360.4L358.1,360.5L359.0,360.9L359.8,361.3L360.6,362.0L361.4,362.8L362.2,363.7L363.0,364.8L363.9,366.0L364.7,367.4L365.5,368.9L366.3,370.5L367.1,372.2L368.0,374.0L368.8,375.9L369.6,377.9L370.4,379.9L371.2,382.0L372.0,384.2L372.9,386.4L373.7,388.6L374.5,390.9L375.3,393.1L376.1,395.4L377.0,397.6L377.8,399.8L378.6,401.9L379.4,404.0L380.2,406.0L381.0,407.9L381.9,409.8L382.7,411.6L383.5,413.2L384.3,414.8L385.1,416.2L385.9,417.5L386.8,418.6L387.6,419.7L388.4,420.5L389.2,421.2L390.0,421.8L390.9,422.2L391.7,422.4L392.5,422.5L393.3,422.5L394.1,422.3L394.9,421.9L395.8,421.4L396.6,420.8L397.4,420.1L398.2,419.2L399.0,418.3L399.9,417.2L400.7,415.9L401.5,414.6L402.3,413.2L403.1,411.7L403.9,410.1L404.8,408.4L405.6,406.6L406.4,404.7L407.2,402.8L408.0,400.9L408.9,398.9L409.7,396.9L410.5,394.8L411.3,392.7L412.1,390.6L412.9,388.6L413.8,386.5L414.6,384.4L415.4,382.4L416.2,380.4L417.0,378.4L417.9,376.5L418.7,374.7L419.5,372.9L420.3,371.2L421.1,369.6L421.9,368.1L422.8,366.7L423.6,365.4L424.4,364.1L425.2,363.0L426.0,362.1L426.9,361.2L427.7,360.5L428.5,359.9L429.3,359.4L430.1,359.0L430.9,358.8L431.8,358.8L432.6,358.8L433.4,359.1L434.2,359.5L435.0,360.1L435.8,360.8L436.7,361.6L437.5,362.7L438.3,363.8L439.1,365.1L439.9,366.5L440.8,368.1L441.6,369.8L442.4,371.5L443.2,373.4L444.0,375.3L444.8,377.4L445.7,379.5L446.5,381.6L447.3,383.8" stroke="#d95319" stroke-dasharray="5.9 1.5 2.3 1.5"/>
</g>
<rect x="283.7" y="325.8" width="163.6" height="98.7" fill="none" stroke="#262626" stroke-width="1.2"/>
<path d="M316.42,424.5v-1.9M316.42,325.8v1.9M349.14,424.5v-1.9M349.14,325.8v1.9M381.86,424.5v-1.9M381.86,325.8v1.9M414.58,424.5v-1.9M414.58,325.8v1.9M283.7,404.76h1.9M447.3,404.76h-1.9M283.7,385.02h1.9M447.3,385.02h-1.9M283.7,365.28h1.9M447.3,365.28h-1.9M283.7,345.54h1.9M447.3,345.54h-1.9" stroke="#262626" stroke-width="0.8" fill="none"/>
<g font-size="8.5" letter-spacing="0.7">
<text x="283.8" y="435.2" text-anchor="middle">0</text>
<text x="316.52" y="435.2" text-anchor="middle">4</text>
<text x="349.24" y="435.2" text-anchor="middle">8</text>
<text x="381.96" y="435.2" text-anchor="middle">12</text>
<text x="414.68" y="435.2" text-anchor="middle">16</text>
<text x="447.4" y="435.2" text-anchor="middle">20</text>
<text x="279.1" y="428.2" text-anchor="end">0</text>
<text x="279.1" y="408.46" text-anchor="end">0.1</text>
<text x="279.1" y="388.72" text-anchor="end">0.2</text>
<text x="279.1" y="368.98" text-anchor="end">0.3</text>
<text x="279.1" y="349.24" text-anchor="end">0.4</text>
<text x="279.1" y="329.5" text-anchor="end">0.5</text>
</g>
<text x="288" y="334.6" font-size="11.2">N=4</text>
<text x="287.1" y="347.5" font-size="10.4">Δ</text><path d="M295.6,343.5h5.8M295.6,345.8h5.8" stroke="#1a1a1a" stroke-width="0.8" fill="none"/><text x="303.7" y="347.5" font-size="9.3">10 meV</text>
<path d="M352.6,333.4H381.1" stroke="#0000ff" stroke-width="2.35" fill="none"/>
<text x="385.3" y="336.1" font-size="8.5">θ</text><path d="M391.2,332.3h4.6M391.2,334.6h4.6" stroke="#1a1a1a" stroke-width="0.8" fill="none"/><text x="397.8" y="336.1" font-size="8.7">0</text>
<path d="M352.6,344.0H381.1" stroke="#ff0000" stroke-width="2.35" stroke-dasharray="6 5.25" fill="none"/>
<text x="385.3" y="346.7" font-size="8.5">θ</text><path d="M391.2,342.9h4.6M391.2,345.2h4.6" stroke="#1a1a1a" stroke-width="0.8" fill="none"/><text x="398.1" y="346.7" font-size="9.0">π</text><text x="404.1" y="346.7" font-size="9.0">/</text><text x="407.8" y="346.7" font-size="9.0">12</text>
<path d="M352.6,354.9H381.1" stroke="#d95319" stroke-width="2.35" stroke-dasharray="5.9 1.5 2.3 1.5" fill="none"/>
<text x="385.3" y="357.6" font-size="8.5">θ</text><path d="M391.2,353.8h4.6M391.2,356.1h4.6" stroke="#1a1a1a" stroke-width="0.8" fill="none"/><text x="398.1" y="357.6" font-size="9.0">π</text><text x="404.1" y="357.6" font-size="9.0">/</text><text x="407.8" y="357.6" font-size="9.0">6</text>
<text x="315" y="369.85" font-size="17.2" text-anchor="middle">II</text>
<text x="229" y="378.5" font-size="10.8" font-style="italic">G</text><path d="M237.7,381.8V375.9M236.3,377.8Q237.5,377.1 237.7,375.9Q237.9,377.1 239.1,377.8M241.2,381.8V375.9M239.8,377.8Q241,377.1 241.2,375.9Q241.4,377.1 242.6,377.8" stroke="#22303c" stroke-width="0.7" fill="none"/><text x="243.5" y="382.1" font-size="5.8" font-style="italic">K</text><text x="247.5" y="383.9" font-size="3.8">1</text><text x="250.1" y="378.9" font-size="10.8">/</text><text x="255.1" y="378.5" font-size="10.8" font-style="italic">G</text><text x="261.8" y="382" font-size="6.8">0</text>
<text x="347.2" y="448.1" font-size="12.6" font-style="italic">λ</text><text x="352.7" y="451.8" font-size="7.8">R</text><text x="358.3" y="447.5" font-size="9.5">(meV)</text>
<clipPath id="c8"><rect x="515.4" y="323.8" width="163.9" height="102.7"/></clipPath>
<g clip-path="url(#c8)" fill="none" stroke-width="2.35" stroke-linejoin="round">
<path d="M515.4,375.7L516.2,376.0L517.0,376.9L517.9,378.3L518.7,380.3L519.5,382.7L520.3,385.6L521.1,388.8L522.0,392.3L522.8,395.9L523.6,399.6L524.4,403.3L525.2,407.0L526.1,410.4L526.9,413.6L527.7,416.4L528.5,418.8L529.3,420.7L530.2,422.1L531.0,422.9L531.8,423.1L532.6,422.8L533.4,421.9L534.2,420.5L535.1,418.5L535.9,416.2L536.7,413.4L537.5,410.3L538.3,406.9L539.2,403.3L540.0,399.7L540.8,396.0L541.6,392.4L542.4,389.0L543.3,385.8L544.1,382.9L544.9,380.4L545.7,378.3L546.5,376.8L547.4,375.7L548.2,375.2L549.0,375.2L549.8,375.8L550.6,376.7L551.5,378.2L552.3,380.0L553.1,382.2L553.9,384.8L554.7,387.6L555.6,390.6L556.4,393.8L557.2,397.1L558.0,400.4L558.8,403.7L559.7,406.9L560.5,409.9L561.3,412.7L562.1,415.1L562.9,417.3L563.8,419.0L564.6,420.4L565.4,421.3L566.2,421.7L567.0,421.6L567.8,421.0L568.7,419.7L569.5,417.9L570.3,415.6L571.1,412.8L571.9,409.7L572.8,406.2L573.6,402.5L574.4,398.7L575.2,394.8L576.0,391.0L576.9,387.4L577.7,384.0L578.5,380.9L579.3,378.2L580.1,376.0L581.0,374.3L581.8,373.2L582.6,372.6L583.4,372.7L584.2,373.3L585.1,374.5L585.9,376.2L586.7,378.3L587.5,380.9L588.3,383.9L589.2,387.1L590.0,390.6L590.8,394.2L591.6,397.8L592.4,401.4L593.3,404.9L594.1,408.2L594.9,411.2L595.7,413.8L596.5,416.0L597.3,417.7L598.2,419.0L599.0,419.6L599.8,419.7L600.6,419.3L601.4,418.3L602.3,416.9L603.1,414.9L603.9,412.5L604.7,409.8L605.5,406.8L606.4,403.5L607.2,400.1L608.0,396.6L608.8,393.1L609.6,389.8L610.5,386.6L611.3,383.7L612.1,381.1L612.9,379.0L613.7,377.3L614.6,376.0L615.4,375.3L616.2,375.2L617.0,375.6L617.8,376.5L618.7,378.0L619.5,379.9L620.3,382.3L621.1,385.1L621.9,388.2L622.8,391.5L623.6,395.0L624.4,398.6L625.2,402.1L626.0,405.5L626.9,408.8L627.7,411.8L628.5,414.4L629.3,416.6L630.1,418.4L630.9,419.7L631.8,420.4L632.6,420.5L633.4,420.2L634.2,419.2L635.0,417.8L635.9,415.9L636.7,413.6L637.5,410.8L638.3,407.8L639.1,404.5L640.0,401.1L640.8,397.6L641.6,394.1L642.4,390.8L643.2,387.6L644.1,384.6L644.9,382.0L645.7,379.8L646.5,378.0L647.3,376.7L648.2,376.0L649.0,375.7L649.8,376.0L650.6,376.8L651.4,378.1L652.3,379.9L653.1,382.0L653.9,384.5L654.7,387.2L655.5,390.2L656.4,393.4L657.2,396.6L658.0,399.9L658.8,403.0L659.6,406.0L660.5,408.7L661.3,411.2L662.1,413.3L662.9,415.0L663.7,416.2L664.5,416.9L665.4,417.2L666.2,417.0L667.0,416.3L667.8,415.3L668.6,413.8L669.5,412.0L670.3,409.8L671.1,407.4L671.9,404.7L672.7,401.9L673.6,399.0L674.4,396.0L675.2,393.0L676.0,390.1L676.8,387.4L677.7,384.8L678.5,382.5L679.3,380.5" stroke="#0000ff"/>
<path d="M515.4,391.3L516.2,392.9L517.0,394.7L517.9,396.6L518.7,398.6L519.5,400.7L520.3,402.8L521.1,404.9L522.0,407.0L522.8,409.1L523.6,411.1L524.4,413.0L525.2,414.8L526.1,416.5L526.9,418.1L527.7,419.4L528.5,420.6L529.3,421.5L530.2,422.3L531.0,422.8L531.8,423.1L532.6,423.1L533.4,422.8L534.2,422.2L535.1,421.3L535.9,420.0L536.7,418.5L537.5,416.6L538.3,414.6L539.2,412.4L540.0,410.0L540.8,407.4L541.6,404.8L542.4,402.2L543.3,399.6L544.1,397.1L544.9,394.7L545.7,392.4L546.5,390.3L547.4,388.4L548.2,386.8L549.0,385.5L549.8,384.5L550.6,383.7L551.5,382.4L552.3,379.2L553.1,376.6L553.9,379.0L554.7,384.0L555.6,387.4L556.4,389.7L557.2,392.0L558.0,394.6L558.8,397.3L559.7,400.1L560.5,403.0L561.3,405.9L562.1,408.7L562.9,411.3L563.8,413.7L564.6,415.9L565.4,417.7L566.2,419.2L567.0,420.3L567.8,420.9L568.7,421.1L569.5,421.0L570.3,420.6L571.1,419.9L571.9,418.9L572.8,417.7L573.6,416.3L574.4,414.6L575.2,412.8L576.0,410.8L576.9,408.7L577.7,406.5L578.5,404.3L579.3,402.0L580.1,399.7L581.0,397.5L581.8,395.4L582.6,393.3L583.4,391.4L584.2,389.7L585.1,388.2L585.9,386.9L586.7,385.8L587.5,385.0L588.3,384.5L589.2,384.3L590.0,384.3L590.8,385.0L591.6,386.2L592.4,387.9L593.3,390.0L594.1,392.5L594.9,395.4L595.7,398.4L596.5,401.6L597.3,404.7L598.2,407.7L599.0,410.5L599.8,413.0L600.6,415.1L601.4,416.8L602.3,417.9L603.1,418.5L603.9,418.5L604.7,418.3L605.5,417.9L606.4,417.2L607.2,416.3L608.0,415.3L608.8,414.0L609.6,412.6L610.5,411.0L611.3,409.3L612.1,407.5L612.9,405.7L613.7,403.7L614.6,401.8L615.4,399.9L616.2,397.9L617.0,396.1L617.8,394.3L618.7,392.6L619.5,391.0L620.3,389.6L621.1,388.3L621.9,387.3L622.8,386.4L623.6,385.7L624.4,385.3L625.2,385.0L626.0,385.1L626.9,385.6L627.7,386.5L628.5,387.8L629.3,389.6L630.1,391.7L630.9,394.1L631.8,396.8L632.6,399.5L633.4,402.4L634.2,405.3L635.0,408.0L635.9,410.7L636.7,413.1L637.5,415.2L638.3,416.9L639.1,418.3L640.0,419.2L640.8,419.7L641.6,419.7L642.4,419.4L643.2,418.9L644.1,418.0L644.9,416.9L645.7,415.5L646.5,413.9L647.3,412.2L648.2,410.2L649.0,408.2L649.8,406.0L650.6,403.8L651.4,401.6L652.3,399.4L653.1,397.2L653.9,395.1L654.7,393.2L655.5,391.4L656.4,389.8L657.2,388.5L658.0,387.4L658.8,386.5L659.6,385.9L660.5,385.6L661.3,385.7L662.1,386.1L662.9,386.9L663.7,388.0L664.5,389.6L665.4,391.4L666.2,393.5L667.0,395.8L667.8,398.3L668.6,400.9L669.5,403.5L670.3,406.2L671.1,408.7L671.9,411.1L672.7,413.4L673.6,415.3L674.4,417.0L675.2,418.4L676.0,419.4L676.8,420.0L677.7,420.2L678.5,420.1L679.3,419.8" stroke="#ff0000" stroke-dasharray="6 5.25"/>
<path d="M515.4,373.8L516.2,373.8L517.0,374.1L517.9,374.9L518.7,376.3L519.5,378.3L520.3,380.7L521.1,383.5L522.0,386.7L522.8,390.1L523.6,393.7L524.4,397.5L525.2,401.3L526.1,405.0L526.9,408.5L527.7,411.9L528.5,414.9L529.3,417.5L530.2,419.7L531.0,421.3L531.8,422.5L532.6,423.0L533.4,423.1L534.2,422.5L535.1,421.5L535.9,420.0L536.7,418.1L537.5,415.7L538.3,413.0L539.2,409.9L540.0,406.6L540.8,403.0L541.6,399.3L542.4,395.6L543.3,391.8L544.1,388.1L544.9,384.5L545.7,381.1L546.5,378.0L547.4,375.2L548.2,372.7L549.0,370.7L549.8,369.1L550.6,368.0L551.5,367.4L552.3,367.3L553.1,367.7L553.9,368.7L554.7,370.3L555.6,372.3L556.4,374.8L557.2,377.7L558.0,381.0L558.8,384.5L559.7,388.2L560.5,392.1L561.3,396.0L562.1,399.8L562.9,403.6L563.8,407.1L564.6,410.4L565.4,413.3L566.2,415.9L567.0,417.9L567.8,419.5L568.7,420.6L569.5,421.1L570.3,421.1L571.1,420.7L571.9,420.0L572.8,418.9L573.6,417.5L574.4,415.9L575.2,413.9L576.0,411.7L576.9,409.3L577.7,406.8L578.5,404.1L579.3,401.3L580.1,398.4L581.0,395.6L581.8,392.7L582.6,390.0L583.4,387.4L584.2,384.9L585.1,382.6L585.9,380.6L586.7,378.8L587.5,377.3L588.3,376.1L589.2,375.3L590.0,374.7L590.8,374.6L591.6,374.8L592.4,375.6L593.3,376.8L594.1,378.5L594.9,380.6L595.7,383.1L596.5,385.9L597.3,388.9L598.2,392.1L599.0,395.5L599.8,398.8L600.6,402.2L601.4,405.4L602.3,408.5L603.1,411.3L603.9,413.7L604.7,415.8L605.5,417.5L606.4,418.8L607.2,419.5L608.0,419.8L608.8,419.6L609.6,418.9L610.5,417.9L611.3,416.5L612.1,414.8L612.9,412.7L613.7,410.3L614.6,407.7L615.4,404.9L616.2,401.9L617.0,398.8L617.8,395.7L618.7,392.7L619.5,389.6L620.3,386.8L621.1,384.1L621.9,381.6L622.8,379.4L623.6,377.5L624.4,375.9L625.2,374.8L626.0,374.0L626.9,373.6L627.7,373.7L628.5,374.2L629.3,375.3L630.1,376.8L630.9,378.8L631.8,381.2L632.6,383.9L633.4,386.9L634.2,390.1L635.0,393.5L635.9,396.9L636.7,400.3L637.5,403.6L638.3,406.8L639.1,409.7L640.0,412.3L640.8,414.6L641.6,416.4L642.4,417.8L643.2,418.7L644.1,419.1L644.9,419.1L645.7,418.6L646.5,417.8L647.3,416.6L648.2,415.1L649.0,413.2L649.8,411.1L650.6,408.7L651.4,406.2L652.3,403.5L653.1,400.7L653.9,397.9L654.7,395.0L655.5,392.2L656.4,389.6L657.2,387.1L658.0,384.8L658.8,382.7L659.6,380.9L660.5,379.4L661.3,378.3L662.1,377.6L662.9,377.2L663.7,377.2L664.5,377.5L665.4,378.1L666.2,379.1L667.0,380.3L667.8,381.9L668.6,383.6L669.5,385.6L670.3,387.8L671.1,390.2L671.9,392.7L672.7,395.3L673.6,397.9L674.4,400.6L675.2,403.2L676.0,405.8L676.8,408.2L677.7,410.6L678.5,412.7L679.3,414.6" stroke="#d95319" stroke-dasharray="5.9 1.5 2.3 1.5"/>
</g>
<rect x="515.4" y="325.8" width="163.9" height="98.7" fill="none" stroke="#262626" stroke-width="1.2"/>
<path d="M548.18,424.5v-1.9M548.18,325.8v1.9M580.96,424.5v-1.9M580.96,325.8v1.9M613.74,424.5v-1.9M613.74,325.8v1.9M646.52,424.5v-1.9M646.52,325.8v1.9M515.4,404.76h1.9M679.3,404.76h-1.9M515.4,385.02h1.9M679.3,385.02h-1.9M515.4,365.28h1.9M679.3,365.28h-1.9M515.4,345.54h1.9M679.3,345.54h-1.9" stroke="#262626" stroke-width="0.8" fill="none"/>
<g font-size="8.5" letter-spacing="0.7">
<text x="515.5" y="435.7" text-anchor="middle">0</text>
<text x="548.28" y="435.7" text-anchor="middle">4</text>
<text x="581.06" y="435.7" text-anchor="middle">8</text>
<text x="613.84" y="435.7" text-anchor="middle">12</text>
<text x="646.62" y="435.7" text-anchor="middle">16</text>
<text x="679.4" y="435.7" text-anchor="middle">20</text>
<text x="510.8" y="428.2" text-anchor="end">0</text>
<text x="510.8" y="408.46" text-anchor="end">0.1</text>
<text x="510.8" y="388.72" text-anchor="end">0.2</text>
<text x="510.8" y="368.98" text-anchor="end">0.3</text>
<text x="510.8" y="349.24" text-anchor="end">0.4</text>
<text x="510.8" y="329.5" text-anchor="end">0.5</text>
</g>
<text x="521.5" y="335.4" font-size="9.6">N=8</text>
<text x="522.2" y="346.8" font-size="10.4">Δ</text><path d="M530.7,342.8h5.8M530.7,345.1h5.8" stroke="#1a1a1a" stroke-width="0.8" fill="none"/><text x="538.8" y="346.8" font-size="9.3">10 meV</text>
<path d="M584.8,337.0H613.3" stroke="#0000ff" stroke-width="2.35" fill="none"/>
<text x="617.4" y="339.7" font-size="8.5">θ</text><path d="M623.3,335.9h4.6M623.3,338.2h4.6" stroke="#1a1a1a" stroke-width="0.8" fill="none"/><text x="629.9" y="339.7" font-size="8.7">0</text>
<path d="M584.8,347.9H613.3" stroke="#ff0000" stroke-width="2.35" stroke-dasharray="6 5.25" fill="none"/>
<text x="617.4" y="350.6" font-size="8.5">θ</text><path d="M623.3,346.8h4.6M623.3,349.1h4.6" stroke="#1a1a1a" stroke-width="0.8" fill="none"/><text x="630.2" y="350.6" font-size="9.0">π</text><text x="636.2" y="350.6" font-size="9.0">/</text><text x="639.9" y="350.6" font-size="9.0">12</text>
<path d="M584.8,358.8H613.3" stroke="#d95319" stroke-width="2.35" stroke-dasharray="5.9 1.5 2.3 1.5" fill="none"/>
<text x="617.4" y="361.5" font-size="8.5">θ</text><path d="M623.3,357.7h4.6M623.3,360h4.6" stroke="#1a1a1a" stroke-width="0.8" fill="none"/><text x="630.2" y="361.5" font-size="9.0">π</text><text x="636.2" y="361.5" font-size="9.0">/</text><text x="639.9" y="361.5" font-size="9.0">6</text>
<text x="536.6" y="369.85" font-size="17.2" text-anchor="middle">III</text>
<text x="461" y="378.5" font-size="10.8" font-style="italic">G</text><path d="M469.7,381.8V375.9M468.3,377.8Q469.5,377.1 469.7,375.9Q469.9,377.1 471.1,377.8M473.2,381.8V375.9M471.8,377.8Q473,377.1 473.2,375.9Q473.4,377.1 474.6,377.8" stroke="#22303c" stroke-width="0.7" fill="none"/><text x="475.5" y="382.1" font-size="5.8" font-style="italic">K</text><text x="479.5" y="383.9" font-size="3.8">1</text><text x="482.1" y="378.9" font-size="10.8">/</text><text x="487.1" y="378.5" font-size="10.8" font-style="italic">G</text><text x="493.8" y="382" font-size="6.8">0</text>
<text x="580.1" y="449.4" font-size="12.6" font-style="italic">λ</text><text x="585.6" y="453.1" font-size="7.8">R</text><text x="591.2" y="448.8" font-size="9.5">(meV)</text>
<clipPath id="c9"><rect x="57.1" y="477.9" width="163.5" height="103.1"/></clipPath>
<g clip-path="url(#c9)" fill="none" stroke-width="2.35" stroke-linejoin="round">
<path d="M57.1,579.0L57.9,579.0L58.7,578.9L59.6,578.8L60.4,578.7L61.2,578.5L62.0,578.3L62.8,578.1L63.6,577.8L64.5,577.4L65.3,577.1L66.1,576.7L66.9,576.2L67.7,575.8L68.5,575.3L69.4,574.7L70.2,574.2L71.0,573.6L71.8,572.9L72.6,572.3L73.5,571.6L74.3,570.9L75.1,570.1L75.9,569.3L76.7,568.5L77.5,567.7L78.4,566.9L79.2,566.0L80.0,565.1L80.8,564.2L81.6,563.3L82.4,562.4L83.3,561.4L84.1,560.4L84.9,559.5L85.7,558.5L86.5,557.5L87.3,556.4L88.2,555.4L89.0,554.4L89.8,553.4L90.6,552.4L91.4,551.3L92.3,550.3L93.1,549.3L93.9,548.3L94.7,547.2L95.5,546.2L96.3,545.2L97.2,544.2L98.0,543.3L98.8,542.3L99.6,541.3L100.4,540.4L101.2,539.5L102.1,538.6L102.9,537.7L103.7,536.8L104.5,536.0L105.3,535.1L106.2,534.3L107.0,533.6L107.8,532.8L108.6,532.1L109.4,531.4L110.2,530.8L111.1,530.1L111.9,529.5L112.7,529.0L113.5,528.4L114.3,527.9L115.1,527.4L116.0,527.0L116.8,526.6L117.6,526.3L118.4,525.9L119.2,525.6L120.0,525.4L120.9,525.2L121.7,525.0L122.5,524.9L123.3,524.8L124.1,524.7L125.0,524.7L125.8,524.7L126.6,524.8L127.4,524.9L128.2,525.0L129.0,525.2L129.9,525.4L130.7,525.7L131.5,525.9L132.3,526.3L133.1,526.6L133.9,527.0L134.8,527.5L135.6,528.0L136.4,528.5L137.2,529.0L138.0,529.6L138.8,530.2L139.7,530.8L140.5,531.5L141.3,532.2L142.1,532.9L142.9,533.7L143.8,534.5L144.6,535.3L145.4,536.1L146.2,537.0L147.0,537.8L147.8,538.7L148.7,539.6L149.5,540.6L150.3,541.5L151.1,542.5L151.9,543.4L152.7,544.4L153.6,545.4L154.4,546.4L155.2,547.4L156.0,548.5L156.8,549.5L157.7,550.5L158.5,551.5L159.3,552.6L160.1,553.6L160.9,554.6L161.7,555.6L162.6,556.7L163.4,557.7L164.2,558.7L165.0,559.7L165.8,560.6L166.6,561.6L167.5,562.5L168.3,563.5L169.1,564.4L169.9,565.3L170.7,566.1L171.6,567.0L172.4,567.8L173.2,568.6L174.0,569.4L174.8,570.2L175.6,570.9L176.5,571.6L177.3,572.3L178.1,572.9L178.9,573.5L179.7,574.1L180.5,574.6L181.4,575.1L182.2,575.6L183.0,576.1L183.8,576.5L184.6,576.8L185.4,577.2L186.3,577.4L187.1,577.7L187.9,577.9L188.7,578.1L189.5,578.2L190.4,578.3L191.2,578.4L192.0,578.4L192.8,578.4L193.6,578.3L194.4,578.2L195.3,578.1L196.1,578.0L196.9,577.8L197.7,577.5L198.5,577.3L199.3,577.0L200.2,576.6L201.0,576.3L201.8,575.9L202.6,575.4L203.4,575.0L204.2,574.5L205.1,574.0L205.9,573.4L206.7,572.8L207.5,572.2L208.3,571.6L209.2,570.9L210.0,570.2L210.8,569.5L211.6,568.8L212.4,568.0L213.2,567.2L214.1,566.4L214.9,565.6L215.7,564.8L216.5,563.9L217.3,563.0L218.1,562.1L219.0,561.2L219.8,560.3L220.6,559.4" stroke="#0000ff"/>
<path d="M57.1,579.0L57.9,579.0L58.7,578.9L59.6,578.8L60.4,578.6L61.2,578.5L62.0,578.2L62.8,577.9L63.6,577.6L64.5,577.2L65.3,576.8L66.1,576.4L66.9,575.9L67.7,575.4L68.5,574.8L69.4,574.2L70.2,573.5L71.0,572.9L71.8,572.1L72.6,571.4L73.5,570.6L74.3,569.8L75.1,568.9L75.9,568.0L76.7,567.1L77.5,566.2L78.4,565.2L79.2,564.2L80.0,563.2L80.8,562.2L81.6,561.1L82.4,560.0L83.3,558.9L84.1,557.8L84.9,556.6L85.7,555.5L86.5,554.3L87.3,553.1L88.2,551.9L89.0,550.7L89.8,549.5L90.6,548.3L91.4,547.1L92.3,545.8L93.1,544.6L93.9,543.4L94.7,542.2L95.5,540.9L96.3,539.7L97.2,538.5L98.0,537.3L98.8,536.1L99.6,534.9L100.4,533.8L101.2,532.6L102.1,531.5L102.9,530.3L103.7,529.2L104.5,528.1L105.3,527.1L106.2,526.0L107.0,525.0L107.8,524.0L108.6,523.0L109.4,522.1L110.2,521.2L111.1,520.3L111.9,519.4L112.7,518.6L113.5,517.8L114.3,517.1L115.1,516.4L116.0,515.7L116.8,515.0L117.6,514.4L118.4,513.9L119.2,513.3L120.0,512.8L120.9,512.4L121.7,512.0L122.5,511.6L123.3,511.3L124.1,511.0L125.0,510.8L125.8,510.6L126.6,510.4L127.4,510.3L128.2,510.2L129.0,510.2L129.9,510.2L130.7,510.3L131.5,510.4L132.3,510.6L133.1,510.8L133.9,511.1L134.8,511.4L135.6,511.7L136.4,512.1L137.2,512.5L138.0,513.0L138.8,513.5L139.7,514.1L140.5,514.7L141.3,515.3L142.1,516.0L142.9,516.7L143.8,517.5L144.6,518.3L145.4,519.1L146.2,520.0L147.0,520.9L147.8,521.8L148.7,522.8L149.5,523.8L150.3,524.8L151.1,525.8L151.9,526.9L152.7,528.0L153.6,529.1L154.4,530.3L155.2,531.4L156.0,532.6L156.8,533.8L157.7,535.0L158.5,536.2L159.3,537.4L160.1,538.7L160.9,539.9L161.7,541.2L162.6,542.4L163.4,543.7L164.2,544.9L165.0,546.2L165.8,547.5L166.6,548.7L167.5,550.0L168.3,551.2L169.1,552.4L169.9,553.6L170.7,554.8L171.6,556.0L172.4,557.2L173.2,558.4L174.0,559.5L174.8,560.6L175.6,561.7L176.5,562.8L177.3,563.8L178.1,564.9L178.9,565.9L179.7,566.8L180.5,567.7L181.4,568.6L182.2,569.5L183.0,570.3L183.8,571.1L184.6,571.9L185.4,572.6L186.3,573.3L187.1,573.9L187.9,574.5L188.7,575.1L189.5,575.6L190.4,576.1L191.2,576.5L192.0,576.9L192.8,577.3L193.6,577.6L194.4,577.8L195.3,578.0L196.1,578.2L196.9,578.3L197.7,578.4L198.5,578.4L199.3,578.4L200.2,578.3L201.0,578.3L201.8,578.2L202.6,578.0L203.4,577.8L204.2,577.6L205.1,577.4L205.9,577.1L206.7,576.8L207.5,576.5L208.3,576.1L209.2,575.8L210.0,575.3L210.8,574.9L211.6,574.4L212.4,573.9L213.2,573.4L214.1,572.8L214.9,572.3L215.7,571.7L216.5,571.0L217.3,570.4L218.1,569.7L219.0,569.0L219.8,568.3L220.6,567.5" stroke="#ff0000" stroke-dasharray="6 5.25"/>
<path d="M57.1,579.0L57.9,579.0L58.7,578.9L59.6,578.8L60.4,578.6L61.2,578.4L62.0,578.1L62.8,577.8L63.6,577.4L64.5,577.0L65.3,576.6L66.1,576.1L66.9,575.5L67.7,574.9L68.5,574.3L69.4,573.6L70.2,572.9L71.0,572.1L71.8,571.3L72.6,570.5L73.5,569.6L74.3,568.7L75.1,567.7L75.9,566.7L76.7,565.7L77.5,564.6L78.4,563.5L79.2,562.4L80.0,561.2L80.8,560.1L81.6,558.8L82.4,557.6L83.3,556.4L84.1,555.1L84.9,553.8L85.7,552.5L86.5,551.1L87.3,549.8L88.2,548.4L89.0,547.0L89.8,545.6L90.6,544.2L91.4,542.8L92.3,541.4L93.1,540.0L93.9,538.6L94.7,537.2L95.5,535.7L96.3,534.3L97.2,532.9L98.0,531.5L98.8,530.1L99.6,528.7L100.4,527.3L101.2,526.0L102.1,524.6L102.9,523.3L103.7,522.0L104.5,520.7L105.3,519.4L106.2,518.1L107.0,516.9L107.8,515.7L108.6,514.5L109.4,513.4L110.2,512.2L111.1,511.1L111.9,510.1L112.7,509.0L113.5,508.0L114.3,507.1L115.1,506.2L116.0,505.3L116.8,504.4L117.6,503.6L118.4,502.9L119.2,502.1L120.0,501.5L120.9,500.8L121.7,500.2L122.5,499.7L123.3,499.2L124.1,498.7L125.0,498.3L125.8,497.9L126.6,497.6L127.4,497.4L128.2,497.1L129.0,497.0L129.9,496.8L130.7,496.8L131.5,496.7L132.3,496.8L133.1,496.9L133.9,497.0L134.8,497.2L135.6,497.4L136.4,497.7L137.2,498.1L138.0,498.5L138.8,498.9L139.7,499.4L140.5,500.0L141.3,500.6L142.1,501.2L142.9,501.9L143.8,502.7L144.6,503.5L145.4,504.3L146.2,505.2L147.0,506.1L147.8,507.1L148.7,508.1L149.5,509.1L150.3,510.2L151.1,511.3L151.9,512.5L152.7,513.7L153.6,514.9L154.4,516.1L155.2,517.4L156.0,518.7L156.8,520.0L157.7,521.4L158.5,522.7L159.3,524.1L160.1,525.5L160.9,527.0L161.7,528.4L162.6,529.8L163.4,531.3L164.2,532.8L165.0,534.2L165.8,535.7L166.6,537.2L167.5,538.7L168.3,540.1L169.1,541.6L169.9,543.1L170.7,544.5L171.6,546.0L172.4,547.4L173.2,548.8L174.0,550.2L174.8,551.6L175.6,553.0L176.5,554.3L177.3,555.7L178.1,557.0L178.9,558.2L179.7,559.5L180.5,560.7L181.4,561.9L182.2,563.0L183.0,564.2L183.8,565.2L184.6,566.3L185.4,567.3L186.3,568.3L187.1,569.2L187.9,570.1L188.7,570.9L189.5,571.7L190.4,572.4L191.2,573.1L192.0,573.8L192.8,574.4L193.6,574.9L194.4,575.4L195.3,575.9L196.1,576.3L196.9,576.6L197.7,576.9L198.5,577.2L199.3,577.4L200.2,577.5L201.0,577.6L201.8,577.6L202.6,577.6L203.4,577.6L204.2,577.5L205.1,577.4L205.9,577.3L206.7,577.1L207.5,576.9L208.3,576.7L209.2,576.5L210.0,576.2L210.8,575.9L211.6,575.6L212.4,575.2L213.2,574.8L214.1,574.4L214.9,574.0L215.7,573.5L216.5,573.1L217.3,572.6L218.1,572.0L219.0,571.5L219.8,570.9L220.6,570.3" stroke="#d95319" stroke-dasharray="5.9 1.5 2.3 1.5"/>
</g>
<rect x="57.1" y="479.9" width="163.5" height="99.1" fill="none" stroke="#262626" stroke-width="1.2"/>
<path d="M89.8,579v-1.9M89.8,479.9v1.9M122.5,579v-1.9M122.5,479.9v1.9M155.2,579v-1.9M155.2,479.9v1.9M187.9,579v-1.9M187.9,479.9v1.9M57.1,559.18h1.9M220.6,559.18h-1.9M57.1,539.36h1.9M220.6,539.36h-1.9M57.1,519.54h1.9M220.6,519.54h-1.9M57.1,499.72h1.9M220.6,499.72h-1.9" stroke="#262626" stroke-width="0.8" fill="none"/>
<g font-size="8.5" letter-spacing="0.7">
<text x="57.2" y="590.2" text-anchor="middle">0</text>
<text x="89.9" y="590.2" text-anchor="middle">4</text>
<text x="122.6" y="590.2" text-anchor="middle">8</text>
<text x="155.3" y="590.2" text-anchor="middle">12</text>
<text x="188" y="590.2" text-anchor="middle">16</text>
<text x="220.7" y="590.2" text-anchor="middle">20</text>
<text x="53" y="582.7" text-anchor="end">0</text>
<text x="53" y="562.88" text-anchor="end">0.1</text>
<text x="53" y="543.06" text-anchor="end">0.2</text>
<text x="53" y="523.24" text-anchor="end">0.3</text>
<text x="53" y="503.42" text-anchor="end">0.4</text>
<text x="53" y="483.6" text-anchor="end">0.5</text>
</g>
<text x="3.0" y="475.3" font-size="17.5" fill="#000">(d)</text>
<text x="61.1" y="489.9" font-size="9.6">N=2</text>
<text x="61.1" y="501.8" font-size="10.4">Δ</text><path d="M69.6,497.8h5.8M69.6,500.1h5.8" stroke="#1a1a1a" stroke-width="0.8" fill="none"/><text x="77.7" y="501.8" font-size="9.3">10 meV</text>
<path d="M153.2,485.4H182.1" stroke="#0000ff" stroke-width="2.35" fill="none"/>
<text x="186" y="488.1" font-size="8.5">θ</text><path d="M191.9,484.3h4.6M191.9,486.6h4.6" stroke="#1a1a1a" stroke-width="0.8" fill="none"/><text x="198.5" y="488.1" font-size="8.7">0</text>
<path d="M153.2,495.8H182.1" stroke="#ff0000" stroke-width="2.35" stroke-dasharray="6 5.25" fill="none"/>
<text x="186" y="498.5" font-size="8.5">θ</text><path d="M191.9,494.7h4.6M191.9,497h4.6" stroke="#1a1a1a" stroke-width="0.8" fill="none"/><text x="198.8" y="498.5" font-size="9.0">π</text><text x="204.8" y="498.5" font-size="9.0">/</text><text x="208.5" y="498.5" font-size="9.0">12</text>
<path d="M153.2,506.7H182.1" stroke="#d95319" stroke-width="2.35" stroke-dasharray="5.9 1.5 2.3 1.5" fill="none"/>
<text x="186" y="509.4" font-size="8.5">θ</text><path d="M191.9,505.6h4.6M191.9,507.9h4.6" stroke="#1a1a1a" stroke-width="0.8" fill="none"/><text x="198.8" y="509.4" font-size="9.0">π</text><text x="204.8" y="509.4" font-size="9.0">/</text><text x="208.5" y="509.4" font-size="9.0">6</text>
<text x="194.8" y="529.55" font-size="17.2" text-anchor="middle">I</text>
<text x="1.3" y="531.9" font-size="10.8" font-style="italic">G</text><path d="M10,529.3V535.2M8.6,533.3Q9.8,534 10,535.2Q10.2,534 11.4,533.3M13.5,535.2V529.3M12.1,531.2Q13.3,530.5 13.5,529.3Q13.7,530.5 14.9,531.2" stroke="#22303c" stroke-width="0.7" fill="none"/><text x="15.8" y="535.5" font-size="5.8" font-style="italic">K</text><text x="19.8" y="537.3" font-size="3.8">1</text><text x="22.4" y="532.3" font-size="10.8">/</text><text x="27.4" y="531.9" font-size="10.8" font-style="italic">G</text><text x="34.1" y="535.4" font-size="6.8">0</text>
<text x="120.6" y="602.6" font-size="12.6" font-style="italic">λ</text><text x="126.1" y="606.3" font-size="7.8">R</text><text x="131.7" y="602" font-size="9.5">(meV)</text>
<clipPath id="c10"><rect x="284.2" y="474.5" width="163.6" height="102.4"/></clipPath>
<g clip-path="url(#c10)" fill="none" stroke-width="2.35" stroke-linejoin="round">
<path d="M284.2,574.9L285.0,574.8L285.8,574.6L286.7,574.3L287.5,573.8L288.3,573.2L289.1,572.4L289.9,571.6L290.7,570.6L291.6,569.5L292.4,568.3L293.2,566.9L294.0,565.5L294.8,564.0L295.7,562.5L296.5,560.8L297.3,559.1L298.1,557.3L298.9,555.5L299.7,553.7L300.6,551.9L301.4,550.0L302.2,548.1L303.0,546.3L303.8,544.5L304.6,542.7L305.5,540.9L306.3,539.2L307.1,537.6L307.9,536.0L308.7,534.5L309.6,533.1L310.4,531.8L311.2,530.5L312.0,529.4L312.8,528.4L313.6,527.6L314.5,526.8L315.3,526.2L316.1,525.7L316.9,525.4L317.7,525.2L318.6,525.1L319.4,525.2L320.2,525.4L321.0,525.8L321.8,526.3L322.6,527.0L323.5,527.8L324.3,528.7L325.1,529.8L325.9,531.0L326.7,532.3L327.6,533.7L328.4,535.3L329.2,536.9L330.0,538.5L330.8,540.3L331.6,542.1L332.5,544.0L333.3,545.9L334.1,547.8L334.9,549.7L335.7,551.6L336.6,553.6L337.4,555.5L338.2,557.3L339.0,559.1L339.8,560.9L340.6,562.6L341.5,564.2L342.3,565.7L343.1,567.1L343.9,568.4L344.7,569.6L345.6,570.7L346.4,571.6L347.2,572.4L348.0,573.1L348.8,573.6L349.6,574.0L350.5,574.2L351.3,574.3L352.1,574.2L352.9,574.0L353.7,573.7L354.5,573.3L355.4,572.7L356.2,572.0L357.0,571.2L357.8,570.2L358.6,569.2L359.5,568.0L360.3,566.8L361.1,565.4L361.9,564.0L362.7,562.5L363.5,561.0L364.4,559.3L365.2,557.7L366.0,555.9L366.8,554.2L367.6,552.4L368.5,550.6L369.3,548.8L370.1,547.0L370.9,545.2L371.7,543.5L372.5,541.8L373.4,540.1L374.2,538.5L375.0,536.9L375.8,535.4L376.6,534.0L377.5,532.6L378.3,531.4L379.1,530.2L379.9,529.2L380.7,528.3L381.5,527.4L382.4,526.7L383.2,526.2L384.0,525.7L384.8,525.4L385.6,525.2L386.4,525.1L387.3,525.2L388.1,525.4L388.9,525.8L389.7,526.3L390.5,526.9L391.4,527.7L392.2,528.6L393.0,529.6L393.8,530.7L394.6,532.0L395.4,533.3L396.3,534.8L397.1,536.3L397.9,538.0L398.7,539.6L399.5,541.4L400.4,543.2L401.2,545.0L402.0,546.9L402.8,548.8L403.6,550.7L404.4,552.5L405.3,554.4L406.1,556.2L406.9,558.0L407.7,559.8L408.5,561.5L409.4,563.1L410.2,564.6L411.0,566.1L411.8,567.4L412.6,568.7L413.4,569.8L414.3,570.9L415.1,571.8L415.9,572.5L416.7,573.2L417.5,573.7L418.4,574.0L419.2,574.2L420.0,574.3L420.8,574.3L421.6,574.1L422.4,573.8L423.3,573.4L424.1,572.9L424.9,572.2L425.7,571.5L426.5,570.7L427.4,569.7L428.2,568.7L429.0,567.6L429.8,566.4L430.6,565.1L431.4,563.7L432.3,562.3L433.1,560.8L433.9,559.3L434.7,557.7L435.5,556.1L436.3,554.4L437.2,552.8L438.0,551.1L438.8,549.4L439.6,547.7L440.4,546.1L441.3,544.4L442.1,542.8L442.9,541.2L443.7,539.6L444.5,538.1L445.3,536.7L446.2,535.3L447.0,534.0L447.8,532.8" stroke="#0000ff"/>
<path d="M284.2,574.9L285.0,574.8L285.8,574.6L286.7,574.3L287.5,573.9L288.3,573.3L289.1,572.6L289.9,571.7L290.7,570.8L291.6,569.8L292.4,568.6L293.2,567.3L294.0,566.0L294.8,564.6L295.7,563.1L296.5,561.5L297.3,559.8L298.1,558.1L298.9,556.4L299.7,554.6L300.6,552.8L301.4,551.0L302.2,549.1L303.0,547.3L303.8,545.5L304.6,543.6L305.5,541.9L306.3,540.1L307.1,538.4L307.9,536.8L308.7,535.2L309.6,533.7L310.4,532.2L311.2,530.9L312.0,529.6L312.8,528.5L313.6,527.4L314.5,526.5L315.3,525.7L316.1,525.0L316.9,524.4L317.7,523.9L318.6,523.6L319.4,523.4L320.2,523.3L321.0,523.4L321.8,523.6L322.6,523.9L323.5,524.4L324.3,525.0L325.1,525.7L325.9,526.6L326.7,527.6L327.6,528.7L328.4,529.8L329.2,531.1L330.0,532.5L330.8,534.0L331.6,535.5L332.5,537.2L333.3,538.9L334.1,540.6L334.9,542.4L335.7,544.2L336.6,546.0L337.4,547.9L338.2,549.8L339.0,551.6L339.8,553.5L340.6,555.3L341.5,557.1L342.3,558.8L343.1,560.5L343.9,562.1L344.7,563.7L345.6,565.1L346.4,566.5L347.2,567.8L348.0,569.0L348.8,570.1L349.6,571.0L350.5,571.9L351.3,572.6L352.1,573.2L352.9,573.7L353.7,574.0L354.5,574.2L355.4,574.3L356.2,574.2L357.0,574.0L357.8,573.7L358.6,573.2L359.5,572.7L360.3,571.9L361.1,571.1L361.9,570.1L362.7,569.1L363.5,567.9L364.4,566.6L365.2,565.2L366.0,563.8L366.8,562.2L367.6,560.6L368.5,559.0L369.3,557.2L370.1,555.4L370.9,553.6L371.7,551.8L372.5,549.9L373.4,548.0L374.2,546.2L375.0,544.3L375.8,542.5L376.6,540.6L377.5,538.9L378.3,537.1L379.1,535.4L379.9,533.8L380.7,532.3L381.5,530.8L382.4,529.5L383.2,528.2L384.0,527.0L384.8,525.9L385.6,525.0L386.4,524.1L387.3,523.4L388.1,522.8L388.9,522.4L389.7,522.0L390.5,521.8L391.4,521.8L392.2,521.8L393.0,522.0L393.8,522.4L394.6,522.8L395.4,523.4L396.3,524.1L397.1,524.9L397.9,525.9L398.7,526.9L399.5,528.1L400.4,529.3L401.2,530.7L402.0,532.1L402.8,533.7L403.6,535.2L404.4,536.9L405.3,538.6L406.1,540.4L406.9,542.1L407.7,544.0L408.5,545.8L409.4,547.6L410.2,549.5L411.0,551.3L411.8,553.1L412.6,554.9L413.4,556.7L414.3,558.4L415.1,560.0L415.9,561.6L416.7,563.2L417.5,564.6L418.4,565.9L419.2,567.2L420.0,568.4L420.8,569.4L421.6,570.4L422.4,571.2L423.3,571.9L424.1,572.5L424.9,572.9L425.7,573.3L426.5,573.5L427.4,573.5L428.2,573.5L429.0,573.3L429.8,573.1L430.6,572.7L431.4,572.2L432.3,571.7L433.1,571.0L433.9,570.3L434.7,569.4L435.5,568.5L436.3,567.5L437.2,566.4L438.0,565.2L438.8,564.0L439.6,562.7L440.4,561.4L441.3,559.9L442.1,558.5L442.9,557.0L443.7,555.4L444.5,553.8L445.3,552.2L446.2,550.6L447.0,549.0L447.8,547.3" stroke="#ff0000" stroke-dasharray="6 5.25"/>
<path d="M284.2,574.9L285.0,574.8L285.8,574.6L286.7,574.3L287.5,573.8L288.3,573.1L289.1,572.4L289.9,571.5L290.7,570.5L291.6,569.3L292.4,568.1L293.2,566.7L294.0,565.2L294.8,563.6L295.7,562.0L296.5,560.2L297.3,558.4L298.1,556.5L298.9,554.6L299.7,552.6L300.6,550.6L301.4,548.5L302.2,546.5L303.0,544.4L303.8,542.3L304.6,540.2L305.5,538.2L306.3,536.2L307.1,534.2L307.9,532.2L308.7,530.4L309.6,528.5L310.4,526.8L311.2,525.1L312.0,523.6L312.8,522.1L313.6,520.7L314.5,519.5L315.3,518.3L316.1,517.3L316.9,516.4L317.7,515.7L318.6,515.0L319.4,514.5L320.2,514.2L321.0,514.0L321.8,513.9L322.6,514.0L323.5,514.2L324.3,514.6L325.1,515.2L325.9,515.9L326.7,516.7L327.6,517.7L328.4,518.8L329.2,520.1L330.0,521.5L330.8,523.0L331.6,524.6L332.5,526.4L333.3,528.2L334.1,530.1L334.9,532.0L335.7,534.1L336.6,536.2L337.4,538.3L338.2,540.4L339.0,542.6L339.8,544.8L340.6,547.0L341.5,549.1L342.3,551.2L343.1,553.3L343.9,555.4L344.7,557.3L345.6,559.2L346.4,561.1L347.2,562.8L348.0,564.4L348.8,565.9L349.6,567.3L350.5,568.6L351.3,569.7L352.1,570.7L352.9,571.6L353.7,572.3L354.5,572.8L355.4,573.2L356.2,573.4L357.0,573.5L357.8,573.5L358.6,573.2L359.5,572.9L360.3,572.4L361.1,571.8L361.9,571.0L362.7,570.1L363.5,569.1L364.4,567.9L365.2,566.7L366.0,565.3L366.8,563.8L367.6,562.3L368.5,560.6L369.3,558.8L370.1,557.0L370.9,555.1L371.7,553.2L372.5,551.2L373.4,549.1L374.2,547.0L375.0,544.9L375.8,542.8L376.6,540.7L377.5,538.6L378.3,536.5L379.1,534.4L379.9,532.3L380.7,530.3L381.5,528.4L382.4,526.5L383.2,524.6L384.0,522.9L384.8,521.2L385.6,519.6L386.4,518.2L387.3,516.8L388.1,515.5L388.9,514.4L389.7,513.4L390.5,512.5L391.4,511.7L392.2,511.1L393.0,510.6L393.8,510.2L394.6,510.0L395.4,510.0L396.3,510.0L397.1,510.2L397.9,510.6L398.7,511.1L399.5,511.8L400.4,512.6L401.2,513.5L402.0,514.5L402.8,515.7L403.6,517.0L404.4,518.4L405.3,520.0L406.1,521.6L406.9,523.3L407.7,525.1L408.5,527.0L409.4,528.9L410.2,530.9L411.0,532.9L411.8,535.0L412.6,537.2L413.4,539.3L414.3,541.4L415.1,543.6L415.9,545.7L416.7,547.9L417.5,549.9L418.4,552.0L419.2,554.0L420.0,555.9L420.8,557.8L421.6,559.6L422.4,561.3L423.3,562.9L424.1,564.5L424.9,565.9L425.7,567.2L426.5,568.3L427.4,569.4L428.2,570.3L429.0,571.1L429.8,571.8L430.6,572.3L431.4,572.6L432.3,572.9L433.1,572.9L433.9,572.9L434.7,572.7L435.5,572.4L436.3,572.1L437.2,571.6L438.0,571.0L438.8,570.3L439.6,569.5L440.4,568.6L441.3,567.6L442.1,566.5L442.9,565.4L443.7,564.1L444.5,562.8L445.3,561.4L446.2,559.9L447.0,558.4L447.8,556.8" stroke="#d95319" stroke-dasharray="5.9 1.5 2.3 1.5"/>
</g>
<rect x="284.2" y="476.5" width="163.6" height="98.4" fill="none" stroke="#262626" stroke-width="1.2"/>
<path d="M316.92,574.9v-1.9M316.92,476.5v1.9M349.64,574.9v-1.9M349.64,476.5v1.9M382.36,574.9v-1.9M382.36,476.5v1.9M415.08,574.9v-1.9M415.08,476.5v1.9M284.2,555.22h1.9M447.8,555.22h-1.9M284.2,535.54h1.9M447.8,535.54h-1.9M284.2,515.86h1.9M447.8,515.86h-1.9M284.2,496.18h1.9M447.8,496.18h-1.9" stroke="#262626" stroke-width="0.8" fill="none"/>
<g font-size="8.5" letter-spacing="0.7">
<text x="284.3" y="585.2" text-anchor="middle">0</text>
<text x="317.02" y="585.2" text-anchor="middle">4</text>
<text x="349.74" y="585.2" text-anchor="middle">8</text>
<text x="382.46" y="585.2" text-anchor="middle">12</text>
<text x="415.18" y="585.2" text-anchor="middle">16</text>
<text x="447.9" y="585.2" text-anchor="middle">20</text>
<text x="280.4" y="578.6" text-anchor="end">0</text>
<text x="280.4" y="558.92" text-anchor="end">0.1</text>
<text x="280.4" y="539.24" text-anchor="end">0.2</text>
<text x="280.4" y="519.56" text-anchor="end">0.3</text>
<text x="280.4" y="499.88" text-anchor="end">0.4</text>
<text x="280.4" y="480.2" text-anchor="end">0.5</text>
</g>
<text x="288.6" y="484.5" font-size="9.6">N=4</text>
<text x="288.6" y="497.1" font-size="10.4">Δ</text><path d="M297.1,493.1h5.8M297.1,495.4h5.8" stroke="#1a1a1a" stroke-width="0.8" fill="none"/><text x="305.2" y="497.1" font-size="9.3">10 meV</text>
<path d="M352.1,483.2H381.1" stroke="#0000ff" stroke-width="2.35" fill="none"/>
<text x="384.8" y="485.9" font-size="8.5">θ</text><path d="M390.7,482.1h4.6M390.7,484.4h4.6" stroke="#1a1a1a" stroke-width="0.8" fill="none"/><text x="397.3" y="485.9" font-size="8.7">0</text>
<path d="M352.1,493.9H381.1" stroke="#ff0000" stroke-width="2.35" stroke-dasharray="6 5.25" fill="none"/>
<text x="384.8" y="496.6" font-size="8.5">θ</text><path d="M390.7,492.8h4.6M390.7,495.1h4.6" stroke="#1a1a1a" stroke-width="0.8" fill="none"/><text x="397.6" y="496.6" font-size="9.0">π</text><text x="403.6" y="496.6" font-size="9.0">/</text><text x="407.3" y="496.6" font-size="9.0">12</text>
<path d="M352.1,505.2H381.1" stroke="#d95319" stroke-width="2.35" stroke-dasharray="5.9 1.5 2.3 1.5" fill="none"/>
<text x="384.8" y="507.9" font-size="8.5">θ</text><path d="M390.7,504.1h4.6M390.7,506.4h4.6" stroke="#1a1a1a" stroke-width="0.8" fill="none"/><text x="397.6" y="507.9" font-size="9.0">π</text><text x="403.6" y="507.9" font-size="9.0">/</text><text x="407.3" y="507.9" font-size="9.0">6</text>
<text x="344.8" y="523.85" font-size="17.2" text-anchor="middle">II</text>
<text x="228.5" y="528.6" font-size="10.8" font-style="italic">G</text><path d="M237.2,526V531.9M235.8,530Q237,530.7 237.2,531.9Q237.4,530.7 238.6,530M240.7,531.9V526M239.3,527.9Q240.5,527.2 240.7,526Q240.9,527.2 242.1,527.9" stroke="#22303c" stroke-width="0.7" fill="none"/><text x="243" y="532.2" font-size="5.8" font-style="italic">K</text><text x="247" y="534" font-size="3.8">1</text><text x="249.6" y="529" font-size="10.8">/</text><text x="254.6" y="528.6" font-size="10.8" font-style="italic">G</text><text x="261.3" y="532.1" font-size="6.8">0</text>
<text x="350" y="598.5" font-size="12.6" font-style="italic">λ</text><text x="355.5" y="602.2" font-size="7.8">R</text><text x="361.1" y="597.9" font-size="9.5">(meV)</text>
<clipPath id="c11"><rect x="516.8" y="479.8" width="163.9" height="102.8"/></clipPath>
<g clip-path="url(#c11)" fill="none" stroke-width="2.35" stroke-linejoin="round">
<path d="M516.8,580.6L517.6,580.3L518.4,579.6L519.3,578.3L520.1,576.6L520.9,574.5L521.7,572.0L522.5,569.1L523.4,566.0L524.2,562.7L525.0,559.2L525.8,555.6L526.6,552.1L527.5,548.7L528.3,545.4L529.1,542.3L529.9,539.5L530.7,537.1L531.6,535.0L532.4,533.4L533.2,532.2L534.0,531.6L534.8,531.4L535.6,531.8L536.5,532.8L537.3,534.3L538.1,536.4L538.9,538.8L539.7,541.7L540.6,545.0L541.4,548.4L542.2,552.1L543.0,555.8L543.8,559.4L544.7,563.0L545.5,566.4L546.3,569.5L547.1,572.2L547.9,574.5L548.8,576.4L549.6,577.7L550.4,578.4L551.2,578.6L552.0,578.2L552.9,577.2L553.7,575.6L554.5,573.6L555.3,571.0L556.1,568.1L557.0,564.8L557.8,561.2L558.6,557.5L559.4,553.7L560.2,550.0L561.1,546.3L561.9,542.8L562.7,539.6L563.5,536.8L564.3,534.4L565.2,532.5L566.0,531.1L566.8,530.3L567.6,530.0L568.4,530.4L569.2,531.2L570.1,532.7L570.9,534.6L571.7,537.0L572.5,539.7L573.3,542.9L574.2,546.2L575.0,549.8L575.8,553.5L576.6,557.2L577.4,560.9L578.3,564.4L579.1,567.7L579.9,570.6L580.7,573.3L581.5,575.5L582.4,577.2L583.2,578.4L584.0,579.1L584.8,579.2L585.6,578.7L586.5,577.6L587.3,576.0L588.1,573.9L588.9,571.3L589.7,568.3L590.6,564.9L591.4,561.3L592.2,557.6L593.0,553.8L593.8,550.0L594.7,546.3L595.5,542.9L596.3,539.7L597.1,536.9L597.9,534.6L598.8,532.8L599.6,531.5L600.4,530.8L601.2,530.6L602.0,531.1L602.8,532.2L603.7,533.8L604.5,535.9L605.3,538.5L606.1,541.5L606.9,544.9L607.8,548.4L608.6,552.2L609.4,555.9L610.2,559.7L611.0,563.3L611.9,566.7L612.7,569.8L613.5,572.6L614.3,574.8L615.1,576.6L616.0,577.9L616.8,578.5L617.6,578.6L618.4,578.1L619.2,577.1L620.1,575.7L620.9,573.7L621.7,571.4L622.5,568.7L623.3,565.7L624.2,562.5L625.0,559.1L625.8,555.6L626.6,552.1L627.4,548.8L628.3,545.5L629.1,542.5L629.9,539.8L630.7,537.5L631.5,535.6L632.3,534.1L633.2,533.1L634.0,532.6L634.8,532.7L635.6,533.4L636.4,534.6L637.3,536.4L638.1,538.7L638.9,541.5L639.7,544.6L640.5,548.1L641.4,551.7L642.2,555.4L643.0,559.1L643.8,562.8L644.6,566.2L645.5,569.4L646.3,572.2L647.1,574.6L647.9,576.4L648.7,577.7L649.6,578.5L650.4,578.6L651.2,578.2L652.0,577.3L652.8,575.9L653.7,574.0L654.5,571.7L655.3,569.1L656.1,566.2L656.9,563.1L657.8,559.9L658.6,556.6L659.4,553.3L660.2,550.1L661.0,547.2L661.9,544.4L662.7,542.0L663.5,540.0L664.3,538.4L665.1,537.3L665.9,536.7L666.8,536.6L667.6,536.9L668.4,537.6L669.2,538.7L670.0,540.2L670.9,542.0L671.7,544.2L672.5,546.5L673.3,549.1L674.1,551.9L675.0,554.8L675.8,557.7L676.6,560.6L677.4,563.5L678.2,566.2L679.1,568.8L679.9,571.2L680.7,573.3" stroke="#0000ff"/>
<path d="M516.8,580.6L517.6,580.4L518.4,579.9L519.3,579.0L520.1,577.8L520.9,576.4L521.7,574.6L522.5,572.6L523.4,570.4L524.2,568.1L525.0,565.6L525.8,563.1L526.6,560.5L527.5,558.0L528.3,555.6L529.1,553.3L529.9,551.2L530.7,549.3L531.6,547.7L532.4,546.3L533.2,545.2L534.0,544.5L534.8,544.1L535.6,544.1L536.5,544.4L537.3,545.1L538.1,546.2L538.9,547.6L539.7,549.2L540.6,551.2L541.4,553.3L542.2,555.6L543.0,558.0L543.8,560.4L544.7,562.8L545.5,565.1L546.3,567.3L547.1,569.3L547.9,571.1L548.8,572.6L549.6,573.8L550.4,574.7L551.2,575.1L552.0,575.3L552.9,575.1L553.7,574.6L554.5,573.8L555.3,572.7L556.1,571.4L557.0,569.9L557.8,568.2L558.6,566.3L559.4,564.2L560.2,562.1L561.1,559.9L561.9,557.6L562.7,555.4L563.5,553.2L564.3,551.1L565.2,549.1L566.0,547.3L566.8,545.7L567.6,544.2L568.4,543.1L569.2,542.1L570.1,541.5L570.9,541.2L571.7,541.1L572.5,541.5L573.3,542.4L574.2,543.7L575.0,545.5L575.8,547.6L576.6,550.0L577.4,552.6L578.3,555.4L579.1,558.3L579.9,561.2L580.7,563.9L581.5,566.5L582.4,568.9L583.2,570.9L584.0,572.5L584.8,573.7L585.6,574.4L586.5,574.7L587.3,574.6L588.1,574.2L588.9,573.7L589.7,572.9L590.6,572.0L591.4,570.8L592.2,569.5L593.0,568.1L593.8,566.5L594.7,564.8L595.5,563.0L596.3,561.1L597.1,559.2L597.9,557.3L598.8,555.4L599.6,553.6L600.4,551.8L601.2,550.1L602.0,548.5L602.8,547.0L603.7,545.7L604.5,544.6L605.3,543.6L606.1,542.9L606.9,542.3L607.8,542.0L608.6,541.9L609.4,542.1L610.2,542.8L611.0,543.9L611.9,545.4L612.7,547.3L613.5,549.5L614.3,551.9L615.1,554.5L616.0,557.3L616.8,560.1L617.6,562.9L618.4,565.6L619.2,568.1L620.1,570.4L620.9,572.4L621.7,574.1L622.5,575.4L623.3,576.2L624.2,576.6L625.0,576.6L625.8,576.3L626.6,575.6L627.4,574.7L628.3,573.6L629.1,572.1L629.9,570.5L630.7,568.7L631.5,566.6L632.3,564.5L633.2,562.2L634.0,559.9L634.8,557.6L635.6,555.2L636.4,553.0L637.3,550.8L638.1,548.7L638.9,546.8L639.7,545.0L640.5,543.5L641.4,542.2L642.2,541.2L643.0,540.5L643.8,540.0L644.6,539.9L645.5,540.1L646.3,540.8L647.1,542.0L647.9,543.5L648.7,545.5L649.6,547.7L650.4,550.2L651.2,552.9L652.0,555.8L652.8,558.7L653.7,561.6L654.5,564.4L655.3,567.0L656.1,569.4L656.9,571.5L657.8,573.3L658.6,574.6L659.4,575.5L660.2,576.0L661.0,576.0L661.9,575.7L662.7,575.0L663.5,574.1L664.3,572.9L665.1,571.4L665.9,569.6L666.8,567.7L667.6,565.5L668.4,563.3L669.2,560.9L670.0,558.5L670.9,556.1L671.7,553.7L672.5,551.3L673.3,549.1L674.1,547.1L675.0,545.2L675.8,543.6L676.6,542.2L677.4,541.1L678.2,540.3L679.1,539.9L679.9,539.7L680.7,539.7" stroke="#ff0000" stroke-dasharray="6 5.25"/>
<path d="M516.8,580.6L517.6,580.4L518.4,579.6L519.3,578.4L520.1,576.7L520.9,574.6L521.7,572.1L522.5,569.3L523.4,566.2L524.2,562.8L525.0,559.3L525.8,555.6L526.6,551.9L527.5,548.2L528.3,544.7L529.1,541.2L529.9,538.0L530.7,535.0L531.6,532.4L532.4,530.1L533.2,528.3L534.0,526.9L534.8,526.0L535.6,525.5L536.5,525.5L537.3,526.0L538.1,526.8L538.9,528.0L539.7,529.6L540.6,531.5L541.4,533.7L542.2,536.1L543.0,538.8L543.8,541.7L544.7,544.7L545.5,547.8L546.3,551.0L547.1,554.1L547.9,557.2L548.8,560.2L549.6,563.0L550.4,565.6L551.2,568.0L552.0,570.1L552.9,571.8L553.7,573.2L554.5,574.3L555.3,575.0L556.1,575.3L557.0,575.1L557.8,574.4L558.6,573.3L559.4,571.6L560.2,569.6L561.1,567.1L561.9,564.3L562.7,561.3L563.5,558.1L564.3,554.7L565.2,551.3L566.0,547.9L566.8,544.6L567.6,541.5L568.4,538.7L569.2,536.2L570.1,534.0L570.9,532.3L571.7,531.0L572.5,530.3L573.3,530.0L574.2,530.2L575.0,530.8L575.8,531.8L576.6,533.1L577.4,534.8L578.3,536.8L579.1,539.0L579.9,541.5L580.7,544.2L581.5,547.1L582.4,550.0L583.2,553.0L584.0,556.0L584.8,559.0L585.6,561.8L586.5,564.5L587.3,567.0L588.1,569.3L588.9,571.3L589.7,573.0L590.6,574.3L591.4,575.3L592.2,575.9L593.0,576.1L593.8,575.8L594.7,575.0L595.5,573.7L596.3,571.9L597.1,569.7L597.9,567.1L598.8,564.2L599.6,561.0L600.4,557.5L601.2,554.0L602.0,550.3L602.8,546.7L603.7,543.2L604.5,539.8L605.3,536.7L606.1,533.9L606.9,531.5L607.8,529.4L608.6,527.8L609.4,526.7L610.2,526.2L611.0,526.1L611.9,526.6L612.7,527.6L613.5,529.1L614.3,531.0L615.1,533.4L616.0,536.1L616.8,539.2L617.6,542.5L618.4,546.0L619.2,549.6L620.1,553.2L620.9,556.8L621.7,560.3L622.5,563.6L623.3,566.6L624.2,569.2L625.0,571.5L625.8,573.4L626.6,574.8L627.4,575.7L628.3,576.0L629.1,575.9L629.9,575.4L630.7,574.4L631.5,573.0L632.3,571.2L633.2,569.1L634.0,566.7L634.8,564.1L635.6,561.2L636.4,558.2L637.3,555.1L638.1,552.0L638.9,548.9L639.7,545.9L640.5,543.1L641.4,540.5L642.2,538.1L643.0,536.0L643.8,534.3L644.6,533.0L645.5,532.0L646.3,531.5L647.1,531.4L647.9,531.8L648.7,532.7L649.6,534.0L650.4,535.8L651.2,538.0L652.0,540.5L652.8,543.3L653.7,546.3L654.5,549.5L655.3,552.7L656.1,556.0L656.9,559.2L657.8,562.2L658.6,565.1L659.4,567.6L660.2,569.9L661.0,571.7L661.9,573.1L662.7,574.1L663.5,574.6L664.3,574.6L665.1,574.4L665.9,573.9L666.8,573.1L667.6,572.1L668.4,570.8L669.2,569.4L670.0,567.7L670.9,565.9L671.7,563.9L672.5,561.8L673.3,559.6L674.1,557.2L675.0,554.9L675.8,552.5L676.6,550.1L677.4,547.8L678.2,545.5L679.1,543.3L679.9,541.2L680.7,539.3" stroke="#d95319" stroke-dasharray="5.9 1.5 2.3 1.5"/>
</g>
<rect x="516.8" y="481.8" width="163.9" height="98.8" fill="none" stroke="#262626" stroke-width="1.2"/>
<path d="M549.58,580.6v-1.9M549.58,481.8v1.9M582.36,580.6v-1.9M582.36,481.8v1.9M615.14,580.6v-1.9M615.14,481.8v1.9M647.92,580.6v-1.9M647.92,481.8v1.9M516.8,560.84h1.9M680.7,560.84h-1.9M516.8,541.08h1.9M680.7,541.08h-1.9M516.8,521.32h1.9M680.7,521.32h-1.9M516.8,501.56h1.9M680.7,501.56h-1.9" stroke="#262626" stroke-width="0.8" fill="none"/>
<g font-size="8.5" letter-spacing="0.7">
<text x="516.9" y="592.9" text-anchor="middle">0</text>
<text x="549.68" y="592.9" text-anchor="middle">4</text>
<text x="582.46" y="592.9" text-anchor="middle">8</text>
<text x="615.24" y="592.9" text-anchor="middle">12</text>
<text x="648.02" y="592.9" text-anchor="middle">16</text>
<text x="680.8" y="592.9" text-anchor="middle">20</text>
<text x="512.8" y="584.3" text-anchor="end">0</text>
<text x="512.8" y="564.54" text-anchor="end">0.1</text>
<text x="512.8" y="544.78" text-anchor="end">0.2</text>
<text x="512.8" y="525.02" text-anchor="end">0.3</text>
<text x="512.8" y="505.26" text-anchor="end">0.4</text>
<text x="512.8" y="485.5" text-anchor="end">0.5</text>
</g>
<text x="520.5" y="490.9" font-size="9.6">N=8</text>
<text x="520.5" y="502.8" font-size="10.4">Δ</text><path d="M529,498.8h5.8M529,501.1h5.8" stroke="#1a1a1a" stroke-width="0.8" fill="none"/><text x="537.1" y="502.8" font-size="9.3">10 meV</text>
<path d="M581.4,490.4H610.6" stroke="#0000ff" stroke-width="2.35" fill="none"/>
<text x="614" y="493.1" font-size="8.5">θ</text><path d="M619.9,489.3h4.6M619.9,491.6h4.6" stroke="#1a1a1a" stroke-width="0.8" fill="none"/><text x="626.5" y="493.1" font-size="8.7">0</text>
<path d="M581.4,500.9H610.6" stroke="#ff0000" stroke-width="2.35" stroke-dasharray="6 5.25" fill="none"/>
<text x="614" y="503.6" font-size="8.5">θ</text><path d="M619.9,499.8h4.6M619.9,502.1h4.6" stroke="#1a1a1a" stroke-width="0.8" fill="none"/><text x="626.8" y="503.6" font-size="9.0">π</text><text x="632.8" y="503.6" font-size="9.0">/</text><text x="636.5" y="503.6" font-size="9.0">12</text>
<path d="M581.4,512.3H610.6" stroke="#d95319" stroke-width="2.35" stroke-dasharray="5.9 1.5 2.3 1.5" fill="none"/>
<text x="614" y="515" font-size="8.5">θ</text><path d="M619.9,511.2h4.6M619.9,513.5h4.6" stroke="#1a1a1a" stroke-width="0.8" fill="none"/><text x="626.8" y="515" font-size="9.0">π</text><text x="632.8" y="515" font-size="9.0">/</text><text x="636.5" y="515" font-size="9.0">6</text>
<text x="553" y="526.85" font-size="17.2" text-anchor="middle">III</text>
<text x="459.8" y="532.5" font-size="10.8" font-style="italic">G</text><path d="M468.5,529.9V535.8M467.1,533.9Q468.3,534.6 468.5,535.8Q468.7,534.6 469.9,533.9M472,535.8V529.9M470.6,531.8Q471.8,531.1 472,529.9Q472.2,531.1 473.4,531.8" stroke="#22303c" stroke-width="0.7" fill="none"/><text x="474.3" y="536.1" font-size="5.8" font-style="italic">K</text><text x="478.3" y="537.9" font-size="3.8">1</text><text x="480.9" y="532.9" font-size="10.8">/</text><text x="485.9" y="532.5" font-size="10.8" font-style="italic">G</text><text x="492.6" y="536" font-size="6.8">0</text>
<text x="581.3" y="604.7" font-size="12.6" font-style="italic">λ</text><text x="586.8" y="608.4" font-size="7.8">R</text><text x="592.4" y="604.1" font-size="9.5">(meV)</text>
</svg>
</body></html>
